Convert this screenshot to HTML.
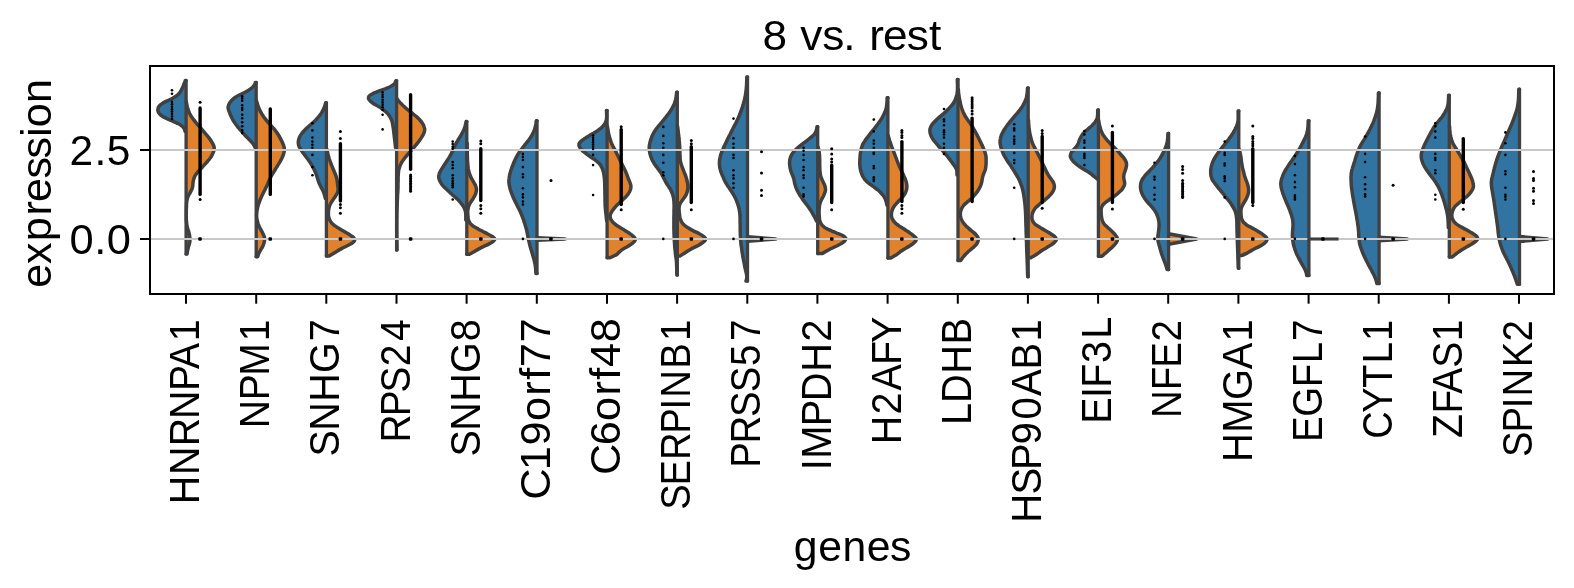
<!DOCTYPE html>
<html><head><meta charset="utf-8"><title>8 vs. rest</title>
<style>html,body{margin:0;padding:0;background:#fff}svg{display:block}</style>
</head><body>
<svg width="1574" height="588" viewBox="0 0 1574 588">
<rect width="1574" height="588" fill="#fff"/>
<g stroke="#404040" stroke-width="3.5" stroke-linejoin="round" stroke-linecap="round">
<path id="v0b" fill="#3274a1" d="M186.1 80.4L185.4 80.4C185.2 80.8 184.8 82.1 184.4 82.9C184.1 83.8 183.8 84.6 183.4 85.5C183.1 86.3 182.7 87.2 182.3 88.0C181.9 88.9 181.5 89.7 181.0 90.6C180.5 91.5 180.0 92.3 179.3 93.2C178.6 94.0 177.9 94.9 176.8 95.7C175.6 96.6 174.2 97.4 172.6 98.3C171.1 99.1 169.0 100.0 167.3 100.8C165.6 101.7 163.7 102.5 162.4 103.4C161.0 104.2 160.0 105.1 159.3 105.9C158.6 106.8 158.2 107.6 158.0 108.5C157.7 109.3 157.8 110.2 158.0 111.0C158.2 111.9 158.7 112.7 159.3 113.6C160.0 114.4 160.8 115.3 162.1 116.1C163.3 117.0 165.1 117.8 166.9 118.7C168.7 119.5 170.8 120.4 172.7 121.2C174.7 122.1 176.9 122.9 178.5 123.8C180.1 124.6 181.3 125.5 182.3 126.3C183.3 127.2 183.8 128.0 184.3 128.9C184.8 129.7 184.9 131.0 185.1 131.4L186.1 131.4"/>
<path id="v0o" fill="#e1812c" d="M186.1 101.8L186.3 101.8C186.4 102.2 186.6 103.5 186.8 104.4C186.9 105.2 187.1 106.0 187.3 106.9C187.5 107.7 187.8 108.6 188.1 109.4C188.3 110.3 188.6 111.1 189.0 112.0C189.3 112.8 189.7 113.7 190.2 114.5C190.6 115.3 191.2 116.2 191.7 117.0C192.3 117.9 192.9 118.7 193.6 119.6C194.2 120.4 194.9 121.3 195.6 122.1C196.2 123.0 196.9 123.8 197.6 124.6C198.4 125.5 199.1 126.3 199.9 127.2C200.6 128.0 201.4 128.9 202.1 129.7C202.9 130.6 203.6 131.4 204.4 132.3C205.1 133.1 205.8 133.9 206.5 134.8C207.2 135.6 207.9 136.5 208.6 137.3C209.2 138.2 209.8 139.0 210.4 139.9C211.0 140.7 211.5 141.6 212.0 142.4C212.5 143.2 213.0 144.1 213.4 144.9C213.7 145.8 214.0 146.6 214.2 147.5C214.3 148.3 214.2 149.2 214.0 150.0C213.9 150.9 213.6 151.7 213.2 152.5C212.9 153.4 212.5 154.2 212.0 155.1C211.6 155.9 211.1 156.8 210.5 157.6C209.9 158.5 209.3 159.3 208.6 160.2C207.9 161.0 207.1 161.8 206.4 162.7C205.6 163.5 204.9 164.4 204.1 165.2C203.3 166.1 202.5 166.9 201.7 167.8C201.0 168.6 200.1 169.5 199.4 170.3C198.6 171.1 197.8 172.0 197.2 172.8C196.5 173.7 195.8 174.5 195.3 175.4C194.8 176.2 194.4 177.1 194.1 177.9C193.8 178.8 193.6 179.6 193.4 180.4C193.2 181.3 193.1 182.1 193.0 183.0C192.9 183.8 192.9 184.7 192.8 185.5C192.6 186.4 192.6 187.2 192.3 188.1C192.0 188.9 191.6 189.7 191.2 190.6C190.8 191.4 190.3 192.3 189.9 193.1C189.4 194.0 188.8 194.8 188.4 195.7C188.1 196.5 187.7 197.4 187.5 198.2C187.2 199.0 187.0 199.9 186.9 200.7C186.7 201.6 186.7 202.4 186.6 203.3C186.5 204.1 186.5 205.0 186.5 205.8C186.4 206.7 186.4 207.5 186.4 208.3C186.3 209.2 186.3 210.0 186.3 210.9C186.3 211.7 186.3 212.6 186.3 213.4C186.3 214.3 186.2 215.1 186.3 216.0C186.3 216.8 186.3 217.6 186.3 218.5C186.3 219.3 186.4 220.2 186.4 221.0C186.5 221.9 186.6 222.7 186.7 223.6C186.8 224.4 186.9 225.3 187.1 226.1C187.2 226.9 187.5 227.8 187.7 228.6C187.9 229.5 188.2 230.3 188.5 231.2C188.8 232.0 189.0 232.9 189.2 233.7C189.4 234.6 189.6 235.4 189.7 236.2C189.8 237.1 189.9 237.9 189.9 238.8C189.9 239.6 190.0 240.5 189.9 241.3C189.8 242.2 189.6 243.0 189.4 243.9C189.2 244.7 188.9 245.5 188.6 246.4C188.4 247.2 188.2 248.1 188.0 248.9C187.8 249.8 187.6 250.6 187.4 251.5C187.3 252.3 187.1 253.6 187.0 254.0L186.1 254.0"/>
<path id="v1b" fill="#3274a1" d="M256.2 82.4L255.5 82.4C255.3 82.8 254.9 84.1 254.4 84.9C253.8 85.8 253.2 86.6 252.3 87.5C251.4 88.3 250.3 89.1 249.0 90.0C247.7 90.8 246.2 91.6 244.6 92.5C243.0 93.3 240.9 94.2 239.3 95.0C237.7 95.8 236.2 96.7 235.0 97.5C233.8 98.3 232.8 99.2 232.0 100.0C231.1 100.9 230.5 101.7 229.9 102.5C229.4 103.4 228.9 104.2 228.6 105.0C228.3 105.9 228.1 106.7 228.1 107.6C228.1 108.4 228.4 109.2 228.6 110.1C228.8 110.9 229.2 111.8 229.6 112.6C229.9 113.4 230.2 114.3 230.5 115.1C230.9 115.9 231.3 116.8 231.7 117.6C232.1 118.5 232.5 119.3 233.0 120.1C233.5 121.0 234.1 121.8 234.6 122.6C235.2 123.5 235.8 124.3 236.5 125.2C237.1 126.0 237.8 126.8 238.4 127.7C239.1 128.5 239.8 129.3 240.5 130.2C241.2 131.0 241.9 131.9 242.7 132.7C243.4 133.5 244.2 134.4 244.9 135.2C245.7 136.0 246.5 136.9 247.4 137.7C248.2 138.6 249.1 139.4 249.9 140.2C250.7 141.1 251.5 141.9 252.2 142.7C252.9 143.6 253.5 144.4 254.0 145.3C254.5 146.1 255.0 147.4 255.2 147.8L256.2 147.8"/>
<path id="v1o" fill="#e1812c" d="M256.2 100.8L256.5 100.8C256.6 101.2 257.0 102.5 257.2 103.3C257.5 104.1 257.7 105.0 258.0 105.8C258.3 106.7 258.6 107.5 259.0 108.3C259.3 109.2 259.7 110.0 260.1 110.9C260.5 111.7 261.0 112.5 261.5 113.4C261.9 114.2 262.5 115.0 263.1 115.9C263.6 116.7 264.2 117.6 264.9 118.4C265.5 119.2 266.2 120.1 266.9 120.9C267.5 121.7 268.3 122.6 269.0 123.4C269.8 124.3 270.5 125.1 271.3 125.9C272.1 126.8 272.9 127.6 273.6 128.4C274.3 129.3 275.0 130.1 275.7 131.0C276.3 131.8 276.9 132.6 277.5 133.5C278.0 134.3 278.6 135.2 279.0 136.0C279.5 136.8 280.0 137.7 280.4 138.5C280.9 139.3 281.3 140.2 281.7 141.0C282.1 141.9 282.5 142.7 282.8 143.5C283.2 144.4 283.6 145.2 283.8 146.0C284.1 146.9 284.3 147.7 284.3 148.6C284.4 149.4 284.3 150.2 284.2 151.1C284.1 151.9 283.9 152.7 283.7 153.6C283.4 154.4 283.1 155.3 282.8 156.1C282.4 156.9 282.1 157.8 281.7 158.6C281.3 159.5 280.8 160.3 280.4 161.1C279.9 162.0 279.4 162.8 278.9 163.6C278.3 164.5 277.8 165.3 277.3 166.2C276.8 167.0 276.2 167.8 275.7 168.7C275.2 169.5 274.7 170.3 274.2 171.2C273.7 172.0 273.1 172.9 272.6 173.7C272.1 174.5 271.7 175.4 271.2 176.2C270.8 177.0 270.3 177.9 269.9 178.7C269.5 179.6 269.2 180.4 268.8 181.2C268.4 182.1 268.1 182.9 267.8 183.8C267.4 184.6 267.0 185.4 266.6 186.3C266.2 187.1 265.8 187.9 265.4 188.8C265.0 189.6 264.6 190.5 264.1 191.3C263.7 192.1 263.3 193.0 262.9 193.8C262.5 194.6 262.1 195.5 261.7 196.3C261.3 197.2 260.9 198.0 260.6 198.8C260.2 199.7 259.9 200.5 259.6 201.3C259.3 202.2 258.9 203.0 258.7 203.9C258.4 204.7 258.1 205.5 257.9 206.4C257.7 207.2 257.5 208.1 257.4 208.9C257.2 209.7 257.0 210.6 256.9 211.4C256.8 212.2 256.7 213.1 256.7 213.9C256.6 214.8 256.6 215.6 256.6 216.4C256.7 217.3 256.8 218.1 256.9 218.9C257.0 219.8 257.2 220.6 257.5 221.5C257.7 222.3 257.9 223.1 258.2 224.0C258.5 224.8 258.9 225.6 259.2 226.5C259.6 227.3 260.1 228.2 260.5 229.0C261.0 229.8 261.4 230.7 261.9 231.5C262.3 232.4 262.7 233.2 263.1 234.0C263.5 234.9 263.9 235.7 264.2 236.5C264.4 237.4 264.6 238.2 264.6 239.1C264.6 239.9 264.5 240.7 264.3 241.6C264.2 242.4 263.9 243.2 263.7 244.1C263.4 244.9 263.0 245.8 262.6 246.6C262.2 247.4 261.6 248.3 261.1 249.1C260.7 249.9 260.1 250.8 259.7 251.6C259.2 252.5 258.9 253.3 258.5 254.1C258.2 255.0 257.8 256.2 257.7 256.7L256.2 256.7"/>
<path id="v2b" fill="#3274a1" d="M326.4 102.8L325.7 102.8C325.6 103.3 325.2 104.5 325.0 105.4C324.7 106.2 324.4 107.0 324.0 107.9C323.7 108.7 323.3 109.5 322.9 110.4C322.5 111.2 322.0 112.1 321.5 112.9C321.0 113.7 320.4 114.6 319.7 115.4C319.1 116.3 318.4 117.1 317.6 117.9C316.9 118.8 316.1 119.6 315.3 120.5C314.4 121.3 313.5 122.1 312.5 123.0C311.6 123.8 310.6 124.7 309.6 125.5C308.7 126.3 307.7 127.2 306.8 128.0C305.9 128.8 305.1 129.7 304.3 130.5C303.6 131.4 302.8 132.2 302.2 133.0C301.5 133.9 300.9 134.7 300.3 135.6C299.8 136.4 299.4 137.2 299.1 138.1C298.8 138.9 298.6 139.8 298.5 140.6C298.3 141.4 298.3 142.3 298.3 143.1C298.4 144.0 298.5 144.8 298.8 145.6C299.1 146.5 299.5 147.3 300.0 148.1C300.5 149.0 301.0 149.8 301.6 150.7C302.2 151.5 302.7 152.3 303.3 153.2C303.9 154.0 304.6 154.9 305.2 155.7C305.8 156.5 306.5 157.4 307.1 158.2C307.8 159.1 308.4 159.9 308.9 160.7C309.5 161.6 310.1 162.4 310.6 163.2C311.2 164.1 311.7 164.9 312.2 165.8C312.7 166.6 313.1 167.4 313.5 168.3C314.0 169.1 314.4 170.0 314.7 170.8C315.1 171.6 315.5 172.5 315.8 173.3C316.1 174.2 316.4 175.0 316.7 175.8C317.0 176.7 317.2 177.5 317.5 178.4C317.8 179.2 318.0 180.0 318.3 180.9C318.6 181.7 318.9 182.5 319.2 183.4C319.6 184.2 319.9 185.1 320.4 185.9C320.8 186.7 321.2 187.6 321.7 188.4C322.1 189.3 322.6 190.1 323.0 190.9C323.4 191.8 323.7 192.6 324.0 193.5C324.3 194.3 324.5 195.1 324.8 196.0C325.0 196.8 325.3 198.1 325.4 198.5L326.4 198.5"/>
<path id="v2o" fill="#e1812c" d="M326.4 148.8L326.7 148.8C326.8 149.2 327.1 150.5 327.3 151.3C327.5 152.2 327.7 153.0 327.9 153.9C328.1 154.7 328.3 155.6 328.6 156.4C328.8 157.3 329.0 158.1 329.3 159.0C329.6 159.8 329.9 160.7 330.2 161.5C330.5 162.4 330.8 163.2 331.1 164.1C331.5 164.9 331.8 165.8 332.2 166.6C332.5 167.5 332.9 168.3 333.2 169.2C333.6 170.0 334.0 170.9 334.3 171.7C334.7 172.6 335.0 173.4 335.4 174.3C335.7 175.2 336.0 176.0 336.3 176.9C336.5 177.7 336.7 178.6 336.9 179.4C337.1 180.3 337.2 181.1 337.3 182.0C337.4 182.8 337.5 183.7 337.6 184.5C337.7 185.4 337.9 186.2 337.9 187.1C338.0 187.9 338.2 188.8 338.1 189.6C338.1 190.5 337.9 191.3 337.7 192.2C337.4 193.0 336.9 193.9 336.4 194.7C335.9 195.6 335.3 196.4 334.8 197.3C334.2 198.1 333.6 199.0 333.0 199.8C332.5 200.7 331.8 201.5 331.3 202.4C330.8 203.2 330.3 204.1 329.9 205.0C329.5 205.8 329.3 206.7 329.1 207.5C328.9 208.4 328.7 209.2 328.6 210.1C328.5 210.9 328.4 211.8 328.4 212.6C328.4 213.5 328.4 214.3 328.4 215.2C328.5 216.0 328.6 216.9 328.9 217.7C329.1 218.6 329.4 219.4 329.9 220.3C330.3 221.1 330.8 222.0 331.5 222.8C332.3 223.7 333.2 224.5 334.3 225.4C335.4 226.2 336.8 227.1 338.2 227.9C339.5 228.8 340.9 229.6 342.4 230.5C343.8 231.3 345.4 232.2 346.8 233.1C348.2 233.9 349.7 234.8 350.9 235.6C352.1 236.5 353.5 237.3 354.1 238.2C354.7 239.0 354.9 239.9 354.5 240.7C354.1 241.6 353.1 242.4 351.9 243.3C350.7 244.1 348.9 245.0 347.3 245.8C345.6 246.7 343.5 247.5 341.9 248.4C340.3 249.2 338.9 250.1 337.5 250.9C336.1 251.8 334.8 252.6 333.4 253.5C332.1 254.3 329.9 255.6 329.2 256.0L326.4 256.0"/>
<path id="v3b" fill="#3274a1" d="M396.6 80.8L395.9 80.8C395.7 81.2 395.4 82.5 394.7 83.4C394.0 84.2 393.1 85.1 391.6 85.9C390.2 86.8 388.3 87.7 386.1 88.5C383.9 89.4 380.9 90.2 378.6 91.1C376.3 92.0 374.1 92.8 372.5 93.7C370.9 94.5 369.6 95.4 368.9 96.3C368.3 97.1 368.2 98.0 368.5 98.8C368.8 99.7 369.7 100.5 370.6 101.4C371.6 102.3 372.8 103.1 374.1 104.0C375.4 104.8 377.1 105.7 378.5 106.6C379.9 107.4 381.3 108.3 382.5 109.1C383.7 110.0 384.8 110.9 385.7 111.7C386.7 112.6 387.5 113.4 388.2 114.3C388.9 115.1 389.5 116.0 390.0 116.9C390.5 117.7 390.9 118.6 391.3 119.4C391.6 120.3 391.9 121.2 392.2 122.0C392.4 122.9 392.6 123.7 392.7 124.6C392.9 125.4 393.0 126.3 393.1 127.2C393.3 128.0 393.4 128.9 393.5 129.7C393.6 130.6 393.7 131.5 393.8 132.3C393.9 133.2 394.0 134.0 394.1 134.9C394.2 135.8 394.3 136.6 394.4 137.5C394.5 138.3 394.6 139.2 394.7 140.0C394.8 140.9 394.9 141.8 395.0 142.6C395.1 143.5 395.2 144.3 395.3 145.2C395.4 146.1 395.5 147.3 395.6 147.8L396.6 147.8"/>
<path id="v3o" fill="#e1812c" d="M396.6 98.8L396.9 98.8C397.2 99.2 398.2 100.4 399.0 101.3C399.7 102.1 400.5 103.0 401.3 103.8C402.1 104.6 402.9 105.5 403.8 106.3C404.7 107.2 405.7 108.0 406.6 108.8C407.6 109.7 408.6 110.5 409.7 111.4C410.7 112.2 411.9 113.0 413.0 113.9C414.1 114.7 415.2 115.6 416.2 116.4C417.2 117.2 418.1 118.1 418.9 118.9C419.7 119.8 420.5 120.6 421.1 121.4C421.8 122.3 422.3 123.1 422.8 123.9C423.3 124.8 423.7 125.6 424.0 126.5C424.3 127.3 424.6 128.1 424.7 129.0C424.8 129.8 424.6 130.7 424.4 131.5C424.2 132.3 423.9 133.2 423.5 134.0C423.1 134.9 422.6 135.7 422.1 136.5C421.6 137.4 421.1 138.2 420.5 139.1C420.0 139.9 419.3 140.7 418.7 141.6C418.0 142.4 417.4 143.3 416.7 144.1C416.0 144.9 415.3 145.8 414.6 146.6C413.9 147.5 413.1 148.3 412.4 149.1C411.7 150.0 410.9 150.8 410.2 151.7C409.5 152.5 408.7 153.3 408.0 154.2C407.3 155.0 406.6 155.9 405.9 156.7C405.2 157.5 404.5 158.4 403.9 159.2C403.2 160.1 402.6 160.9 402.1 161.7C401.6 162.6 401.1 163.4 400.7 164.3C400.3 165.1 400.0 165.9 399.7 166.8C399.4 167.6 399.1 168.5 398.9 169.3C398.7 170.1 398.6 171.0 398.5 171.8C398.4 172.7 398.3 173.5 398.3 174.3C398.2 175.2 398.2 176.0 398.1 176.9C398.1 177.7 398.1 178.5 398.1 179.4C398.1 180.2 398.1 181.1 398.1 181.9C398.0 182.7 398.0 183.6 398.0 184.4C398.0 185.3 398.0 186.1 398.0 186.9C398.0 187.8 397.9 188.6 397.9 189.5C397.9 190.3 397.8 191.1 397.8 192.0C397.7 192.8 397.7 193.7 397.6 194.5C397.6 195.3 397.5 196.2 397.5 197.0C397.5 197.9 397.4 198.7 397.4 199.5C397.3 200.4 397.3 201.2 397.3 202.0C397.2 202.9 397.2 203.7 397.2 204.6C397.2 205.4 397.1 206.2 397.1 207.1C397.1 207.9 397.0 208.8 397.0 209.6C397.0 210.4 397.0 211.3 397.0 212.1C396.9 213.0 396.9 213.8 396.9 214.6C396.9 215.5 396.9 216.3 396.9 217.2C396.8 218.0 396.8 218.8 396.8 219.7C396.8 220.5 396.8 221.4 396.8 222.2C396.8 223.0 396.8 223.9 396.8 224.7C396.8 225.6 396.8 226.4 396.8 227.2C396.8 228.1 396.8 228.9 396.8 229.8C396.8 230.6 396.8 231.4 396.8 232.3C396.8 233.1 396.8 234.0 396.8 234.8C396.8 235.6 396.9 236.5 396.9 237.3C396.9 238.2 396.9 239.0 396.9 239.8C396.9 240.7 396.9 241.5 396.9 242.4C396.9 243.2 397.0 244.0 397.0 244.9C397.0 245.7 397.0 246.6 397.0 247.4C397.0 248.2 397.1 249.5 397.1 249.9L396.6 249.9"/>
<path id="v4b" fill="#3274a1" d="M466.8 121.6L466.1 121.6C466.0 122.0 465.8 123.3 465.6 124.1C465.4 125.0 465.2 125.8 465.0 126.7C464.7 127.5 464.5 128.3 464.1 129.2C463.8 130.0 463.3 130.9 462.9 131.7C462.5 132.5 462.0 133.4 461.5 134.2C461.1 135.1 460.6 135.9 460.1 136.7C459.6 137.6 459.1 138.4 458.5 139.3C458.0 140.1 457.5 141.0 457.0 141.8C456.5 142.6 456.0 143.5 455.6 144.3C455.1 145.2 454.7 146.0 454.3 146.8C454.0 147.7 453.6 148.5 453.3 149.4C452.9 150.2 452.6 151.0 452.2 151.9C451.8 152.7 451.4 153.6 450.9 154.4C450.5 155.2 450.0 156.1 449.5 156.9C448.9 157.8 448.4 158.6 447.9 159.5C447.3 160.3 446.8 161.1 446.2 162.0C445.6 162.8 445.1 163.7 444.5 164.5C444.0 165.3 443.5 166.2 442.9 167.0C442.4 167.9 441.9 168.7 441.4 169.5C440.9 170.4 440.4 171.2 440.0 172.1C439.6 172.9 439.2 173.7 439.0 174.6C438.8 175.4 438.6 176.3 438.7 177.1C438.7 178.0 439.0 178.8 439.3 179.6C439.6 180.5 440.0 181.3 440.5 182.2C440.9 183.0 441.5 183.8 442.1 184.7C442.7 185.5 443.5 186.4 444.3 187.2C445.1 188.0 446.1 188.9 447.0 189.7C447.9 190.6 448.8 191.4 449.7 192.2C450.6 193.1 451.4 193.9 452.4 194.8C453.4 195.6 454.5 196.5 455.4 197.3C456.4 198.1 457.3 199.0 458.1 199.8C459.0 200.7 459.6 201.5 460.3 202.3C461.0 203.2 461.7 204.0 462.3 204.9C462.9 205.7 463.5 206.5 463.9 207.4C464.4 208.2 464.7 209.1 465.0 209.9C465.3 210.7 465.4 211.6 465.6 212.4C465.7 213.3 465.7 214.1 465.8 215.0C465.8 215.8 465.8 216.6 465.8 217.5C465.8 218.3 465.8 219.6 465.8 220.0L466.8 220.0"/>
<path id="v4o" fill="#e1812c" d="M466.8 143.0L467.1 143.0C467.1 143.4 467.1 144.7 467.1 145.5C467.1 146.4 467.1 147.2 467.2 148.1C467.2 148.9 467.2 149.7 467.2 150.6C467.2 151.4 467.3 152.3 467.3 153.1C467.3 154.0 467.3 154.8 467.4 155.6C467.4 156.5 467.4 157.3 467.4 158.2C467.5 159.0 467.5 159.8 467.5 160.7C467.6 161.5 467.6 162.4 467.7 163.2C467.8 164.1 467.8 164.9 467.9 165.7C468.0 166.6 468.1 167.4 468.2 168.3C468.4 169.1 468.5 170.0 468.7 170.8C468.9 171.6 469.1 172.5 469.4 173.3C469.7 174.2 470.0 175.0 470.3 175.9C470.7 176.7 471.1 177.5 471.5 178.4C472.0 179.2 472.5 180.1 473.0 180.9C473.4 181.8 474.0 182.6 474.4 183.4C474.9 184.3 475.4 185.1 475.7 186.0C476.0 186.8 476.2 187.7 476.4 188.5C476.5 189.3 476.5 190.2 476.3 191.0C476.2 191.9 476.0 192.7 475.7 193.5C475.4 194.4 475.0 195.2 474.6 196.1C474.1 196.9 473.6 197.8 473.1 198.6C472.6 199.4 472.0 200.3 471.4 201.1C470.9 202.0 470.3 202.8 469.8 203.7C469.4 204.5 469.0 205.3 468.7 206.2C468.4 207.0 468.2 207.9 468.1 208.7C467.9 209.6 467.8 210.4 467.7 211.2C467.7 212.1 467.7 212.9 467.8 213.8C467.8 214.6 467.9 215.5 467.9 216.3C468.0 217.1 468.0 218.0 468.2 218.8C468.4 219.7 468.6 220.5 469.0 221.3C469.4 222.2 469.8 223.0 470.6 223.9C471.3 224.7 472.4 225.6 473.7 226.4C474.9 227.2 476.6 228.1 478.2 228.9C479.7 229.8 481.3 230.6 482.9 231.5C484.5 232.3 486.2 233.1 487.8 234.0C489.4 234.8 491.1 235.7 492.3 236.5C493.5 237.4 494.8 238.2 494.9 239.0C495.0 239.9 494.0 240.7 492.9 241.6C491.9 242.4 490.3 243.3 488.7 244.1C487.1 244.9 485.0 245.8 483.3 246.6C481.6 247.5 479.9 248.3 478.4 249.1C476.8 250.0 475.6 250.8 474.1 251.7C472.6 252.5 470.2 253.8 469.4 254.2L466.8 254.2"/>
<path id="v5b" fill="#3274a1" d="M537.0 120.8L536.3 120.8C536.2 121.2 536.1 122.5 536.0 123.3C535.8 124.1 535.7 125.0 535.5 125.8C535.3 126.6 535.1 127.5 534.9 128.3C534.7 129.1 534.4 130.0 534.0 130.8C533.7 131.6 533.3 132.5 532.9 133.3C532.5 134.1 532.1 135.0 531.6 135.8C531.1 136.6 530.6 137.5 530.0 138.3C529.4 139.1 528.8 140.0 528.1 140.8C527.5 141.6 526.8 142.5 526.1 143.3C525.5 144.1 524.8 145.0 524.1 145.8C523.5 146.6 522.8 147.5 522.2 148.3C521.5 149.1 520.9 150.0 520.3 150.8C519.7 151.6 519.1 152.5 518.6 153.3C518.0 154.1 517.6 155.0 517.1 155.8C516.6 156.7 516.2 157.5 515.8 158.3C515.4 159.2 515.0 160.0 514.6 160.8C514.2 161.7 513.9 162.5 513.5 163.3C513.2 164.2 512.9 165.0 512.6 165.8C512.2 166.7 511.9 167.5 511.6 168.3C511.3 169.2 511.0 170.0 510.8 170.8C510.5 171.7 510.3 172.5 510.1 173.3C509.8 174.2 509.7 175.0 509.5 175.8C509.3 176.7 509.2 177.5 509.1 178.3C508.9 179.2 508.9 180.0 508.9 180.8C508.8 181.7 508.9 182.5 509.0 183.3C509.1 184.2 509.2 185.0 509.4 185.8C509.6 186.7 509.8 187.5 510.0 188.3C510.2 189.2 510.4 190.0 510.7 190.8C511.0 191.7 511.3 192.5 511.6 193.3C511.9 194.2 512.2 195.0 512.6 195.8C512.9 196.7 513.3 197.5 513.6 198.3C514.0 199.2 514.4 200.0 514.8 200.8C515.2 201.7 515.6 202.5 516.1 203.3C516.5 204.2 516.9 205.0 517.3 205.8C517.8 206.7 518.2 207.5 518.6 208.3C519.0 209.2 519.5 210.0 519.9 210.9C520.3 211.7 520.7 212.5 521.0 213.4C521.4 214.2 521.7 215.0 522.0 215.9C522.4 216.7 522.7 217.5 523.0 218.4C523.3 219.2 523.6 220.0 523.8 220.9C524.1 221.7 524.4 222.5 524.7 223.4C524.9 224.2 525.2 225.0 525.4 225.9C525.7 226.7 525.9 227.5 526.1 228.4C526.4 229.2 526.6 230.0 526.8 230.9C526.9 231.7 527.1 232.5 527.3 233.4C527.4 234.2 527.6 235.0 527.7 235.9C527.9 236.7 528.0 237.5 528.2 238.4C528.4 239.2 528.6 240.0 528.8 240.9C528.9 241.7 529.2 242.5 529.4 243.4C529.6 244.2 529.8 245.0 530.0 245.9C530.2 246.7 530.5 247.5 530.7 248.4C531.0 249.2 531.2 250.0 531.5 250.9C531.7 251.7 532.0 252.5 532.2 253.4C532.5 254.2 532.7 255.0 532.9 255.9C533.2 256.7 533.4 257.5 533.7 258.4C533.9 259.2 534.1 260.0 534.3 260.9C534.5 261.7 534.7 262.5 534.9 263.4C535.1 264.2 535.2 265.0 535.3 265.9C535.4 266.7 535.5 267.6 535.6 268.4C535.7 269.2 535.7 270.1 535.8 270.9C535.8 271.7 535.9 273.0 535.9 273.4L537.0 273.4"/>
<path id="v5s" fill="#e1812c" d="M537.0 237.7L565.0 239.0L537.0 240.3"/>
<path id="v6b" fill="#3274a1" d="M607.1 110.6L606.4 110.6C606.5 111.0 606.6 112.3 606.6 113.1C606.6 113.9 606.7 114.8 606.7 115.6C606.7 116.4 606.7 117.3 606.6 118.1C606.5 119.0 606.5 119.8 606.2 120.6C606.0 121.5 605.6 122.3 605.2 123.1C604.7 124.0 604.1 124.8 603.4 125.6C602.7 126.5 601.9 127.3 601.0 128.2C600.0 129.0 598.7 129.8 597.5 130.7C596.3 131.5 595.0 132.3 593.6 133.2C592.2 134.0 590.7 134.8 589.3 135.7C587.9 136.5 586.4 137.4 585.2 138.2C583.9 139.0 582.7 139.9 581.7 140.7C580.7 141.5 579.7 142.4 579.3 143.2C578.8 144.0 578.9 144.9 579.0 145.7C579.2 146.6 579.7 147.4 580.3 148.2C580.9 149.1 581.7 149.9 582.5 150.7C583.4 151.6 584.4 152.4 585.5 153.2C586.6 154.1 587.8 154.9 589.0 155.8C590.2 156.6 591.4 157.4 592.6 158.3C593.8 159.1 595.1 159.9 596.2 160.8C597.3 161.6 598.2 162.5 599.0 163.3C599.8 164.1 600.4 165.0 600.9 165.8C601.4 166.6 601.8 167.5 602.2 168.3C602.6 169.1 602.8 170.0 603.1 170.8C603.3 171.7 603.5 172.5 603.7 173.3C603.9 174.2 604.0 175.0 604.1 175.8C604.2 176.7 604.3 177.5 604.4 178.3C604.5 179.2 604.5 180.0 604.6 180.9C604.6 181.7 604.7 182.5 604.7 183.4C604.7 184.2 604.7 185.0 604.8 185.9C604.8 186.7 604.8 187.5 604.8 188.4C604.8 189.2 604.9 190.1 604.9 190.9C604.9 191.7 604.9 192.6 604.9 193.4C604.9 194.2 604.9 195.1 605.0 195.9C605.0 196.7 605.0 197.6 605.0 198.4C605.0 199.3 605.0 200.1 605.0 200.9C605.0 201.8 605.1 202.6 605.1 203.4C605.1 204.3 605.1 205.1 605.2 205.9C605.2 206.8 605.3 207.6 605.4 208.5C605.4 209.3 605.5 210.1 605.6 211.0C605.7 211.8 605.8 212.6 605.9 213.5C606.0 214.3 606.1 215.1 606.2 216.0C606.2 216.8 606.3 217.7 606.4 218.5C606.5 219.3 606.7 220.6 606.7 221.0L607.1 221.0"/>
<path id="v6o" fill="#e1812c" d="M607.1 126.3L607.4 126.3C607.5 126.7 607.6 128.0 607.8 128.8C607.9 129.7 608.0 130.5 608.2 131.4C608.3 132.2 608.5 133.0 608.7 133.9C608.9 134.7 609.1 135.6 609.3 136.4C609.5 137.3 609.8 138.1 610.0 138.9C610.3 139.8 610.6 140.6 610.9 141.5C611.2 142.3 611.5 143.1 611.9 144.0C612.3 144.8 612.7 145.7 613.1 146.5C613.6 147.4 614.0 148.2 614.5 149.0C614.9 149.9 615.4 150.7 615.8 151.6C616.2 152.4 616.6 153.3 617.0 154.1C617.5 154.9 617.9 155.8 618.3 156.6C618.7 157.5 619.1 158.3 619.5 159.1C619.9 160.0 620.3 160.8 620.7 161.7C621.2 162.5 621.6 163.4 622.0 164.2C622.4 165.0 622.9 165.9 623.3 166.7C623.7 167.6 624.2 168.4 624.6 169.3C625.0 170.1 625.4 170.9 625.7 171.8C626.1 172.6 626.4 173.5 626.8 174.3C627.1 175.1 627.4 176.0 627.7 176.8C628.0 177.7 628.3 178.5 628.6 179.4C629.0 180.2 629.3 181.0 629.7 181.9C630.0 182.7 630.4 183.6 630.6 184.4C630.8 185.3 631.0 186.1 630.9 186.9C630.9 187.8 630.7 188.6 630.5 189.5C630.2 190.3 629.8 191.1 629.4 192.0C629.0 192.8 628.5 193.7 627.8 194.5C627.2 195.4 626.5 196.2 625.7 197.0C624.9 197.9 623.9 198.7 623.0 199.6C622.1 200.4 621.2 201.3 620.3 202.1C619.5 202.9 618.5 203.8 617.7 204.6C616.8 205.5 616.0 206.3 615.2 207.1C614.5 208.0 613.8 208.8 613.2 209.7C612.5 210.5 611.9 211.4 611.4 212.2C611.0 213.0 610.5 213.9 610.3 214.7C610.1 215.6 610.1 216.4 610.2 217.3C610.3 218.1 610.6 218.9 611.1 219.8C611.5 220.6 612.1 221.5 612.9 222.3C613.7 223.1 614.7 224.0 615.9 224.8C617.1 225.7 618.7 226.5 620.0 227.4C621.4 228.2 622.9 229.0 624.2 229.9C625.5 230.7 626.9 231.6 628.1 232.4C629.3 233.3 630.5 234.1 631.6 234.9C632.7 235.8 633.9 236.6 634.5 237.5C635.1 238.3 635.4 239.1 635.2 240.0C635.0 240.8 634.2 241.7 633.3 242.5C632.4 243.4 631.2 244.2 630.0 245.0C628.7 245.9 627.0 246.7 625.6 247.6C624.2 248.4 622.6 249.3 621.5 250.1C620.3 250.9 619.7 251.8 618.7 252.6C617.8 253.5 617.3 254.3 615.8 255.1C614.3 256.0 610.9 257.3 609.9 257.7L607.1 257.7"/>
<path id="v7b" fill="#3274a1" d="M677.3 92.2L676.6 92.2C676.6 92.6 676.5 93.9 676.4 94.7C676.3 95.6 676.2 96.4 676.1 97.2C676.0 98.1 675.8 98.9 675.6 99.7C675.4 100.6 675.2 101.4 674.9 102.2C674.6 103.1 674.3 103.9 673.9 104.7C673.5 105.6 673.1 106.4 672.6 107.2C672.2 108.1 671.7 108.9 671.2 109.8C670.7 110.6 670.1 111.4 669.6 112.3C669.0 113.1 668.4 113.9 667.7 114.8C667.1 115.6 666.4 116.4 665.7 117.3C665.0 118.1 664.3 118.9 663.7 119.8C663.0 120.6 662.3 121.4 661.6 122.3C660.9 123.1 660.2 123.9 659.5 124.8C658.8 125.6 658.1 126.4 657.5 127.3C656.8 128.1 656.2 129.0 655.6 129.8C655.0 130.6 654.5 131.5 654.0 132.3C653.6 133.1 653.1 134.0 652.7 134.8C652.3 135.6 651.9 136.5 651.6 137.3C651.3 138.1 651.0 139.0 650.7 139.8C650.4 140.6 650.2 141.5 650.0 142.3C649.8 143.1 649.6 144.0 649.5 144.8C649.4 145.6 649.2 146.5 649.2 147.3C649.2 148.1 649.2 149.0 649.3 149.8C649.4 150.7 649.5 151.5 649.7 152.3C649.8 153.2 650.0 154.0 650.3 154.8C650.5 155.7 650.7 156.5 651.1 157.3C651.4 158.2 651.7 159.0 652.1 159.8C652.5 160.7 653.0 161.5 653.5 162.3C654.0 163.2 654.5 164.0 655.0 164.8C655.6 165.7 656.2 166.5 656.9 167.3C657.5 168.2 658.2 169.0 658.8 169.9C659.4 170.7 660.0 171.5 660.6 172.4C661.1 173.2 661.6 174.0 662.0 174.9C662.5 175.7 662.9 176.5 663.4 177.4C663.8 178.2 664.2 179.0 664.6 179.9C665.1 180.7 665.5 181.5 666.0 182.4C666.4 183.2 667.0 184.0 667.5 184.9C668.0 185.7 668.6 186.5 669.1 187.4C669.7 188.2 670.2 189.0 670.7 189.9C671.1 190.7 671.5 191.6 671.8 192.4C672.2 193.2 672.5 194.1 672.7 194.9C673.0 195.7 673.2 196.6 673.4 197.4C673.6 198.2 673.7 199.1 673.8 199.9C673.9 200.7 673.9 201.6 674.0 202.4C674.0 203.2 674.0 204.1 674.1 204.9C674.1 205.7 674.1 206.6 674.1 207.4C674.1 208.2 674.1 209.1 674.0 209.9C674.0 210.7 674.0 211.6 674.0 212.4C674.0 213.3 674.0 214.1 674.0 214.9C673.9 215.8 673.9 216.6 673.9 217.4C673.9 218.3 673.9 219.1 673.9 219.9C673.9 220.8 673.9 221.6 673.9 222.4C673.9 223.3 673.9 224.1 673.9 224.9C673.9 225.8 673.9 226.6 673.9 227.4C673.9 228.3 673.9 229.1 673.9 229.9C674.0 230.8 674.0 231.6 674.0 232.5C674.0 233.3 674.0 234.1 674.1 235.0C674.1 235.8 674.1 236.6 674.2 237.5C674.2 238.3 674.2 239.1 674.3 240.0C674.3 240.8 674.4 241.6 674.5 242.5C674.5 243.3 674.6 244.1 674.6 245.0C674.7 245.8 674.8 246.6 674.8 247.5C674.9 248.3 675.0 249.1 675.1 250.0C675.2 250.8 675.2 251.6 675.3 252.5C675.4 253.3 675.5 254.2 675.6 255.0C675.7 255.8 675.8 256.7 676.0 257.5C676.1 258.3 676.2 259.2 676.3 260.0C676.4 260.8 676.4 261.7 676.5 262.5C676.6 263.3 676.6 264.2 676.6 265.0C676.7 265.8 676.7 266.7 676.7 267.5C676.8 268.3 676.8 269.2 676.8 270.0C676.8 270.8 676.8 271.7 676.8 272.5C676.8 273.4 676.8 274.6 676.8 275.0L677.3 275.0"/>
<path id="v7o" fill="#e1812c" d="M677.3 126.3L677.6 126.3C677.7 126.7 677.8 128.0 677.9 128.8C678.0 129.7 678.1 130.5 678.2 131.4C678.3 132.2 678.4 133.1 678.5 133.9C678.6 134.8 678.7 135.6 678.8 136.5C678.9 137.3 679.0 138.2 679.0 139.0C679.1 139.9 679.2 140.7 679.3 141.6C679.4 142.4 679.4 143.3 679.5 144.1C679.6 145.0 679.6 145.8 679.7 146.7C679.7 147.5 679.8 148.4 679.8 149.2C679.8 150.0 679.9 150.9 679.9 151.7C679.9 152.6 679.9 153.4 679.9 154.3C680.0 155.1 680.0 156.0 680.0 156.8C680.1 157.7 680.1 158.5 680.2 159.4C680.3 160.2 680.4 161.1 680.6 161.9C680.8 162.8 681.0 163.6 681.3 164.5C681.5 165.3 681.8 166.2 682.2 167.0C682.5 167.9 682.8 168.7 683.2 169.6C683.5 170.4 683.9 171.2 684.2 172.1C684.5 172.9 684.9 173.8 685.2 174.6C685.5 175.5 685.8 176.3 686.1 177.2C686.3 178.0 686.6 178.9 686.8 179.7C687.0 180.6 687.2 181.4 687.4 182.3C687.5 183.1 687.7 184.0 687.8 184.8C687.9 185.7 687.9 186.5 687.9 187.4C687.9 188.2 687.8 189.1 687.6 189.9C687.5 190.7 687.3 191.6 687.0 192.4C686.7 193.3 686.4 194.1 686.0 195.0C685.5 195.8 684.9 196.7 684.4 197.5C683.8 198.4 683.1 199.2 682.5 200.1C681.8 200.9 681.1 201.8 680.6 202.6C680.1 203.5 679.8 204.3 679.5 205.2C679.3 206.0 679.1 206.9 679.1 207.7C679.0 208.6 679.1 209.4 679.1 210.3C679.1 211.1 679.2 211.9 679.3 212.8C679.4 213.6 679.5 214.5 679.6 215.3C679.7 216.2 679.8 217.0 680.0 217.9C680.3 218.7 680.5 219.6 680.9 220.4C681.2 221.3 681.6 222.1 682.3 223.0C682.9 223.8 683.8 224.7 684.8 225.5C685.8 226.4 687.1 227.2 688.5 228.1C689.9 228.9 691.4 229.8 693.0 230.6C694.6 231.5 696.6 232.3 698.2 233.1C699.8 234.0 701.4 234.8 702.6 235.7C703.8 236.5 705.0 237.4 705.4 238.2C705.8 239.1 705.5 239.9 704.9 240.8C704.3 241.6 703.0 242.5 701.8 243.3C700.5 244.2 699.0 245.0 697.4 245.9C695.8 246.7 693.8 247.6 692.2 248.4C690.6 249.3 689.1 250.1 687.7 251.0C686.4 251.8 685.2 252.6 683.9 253.5C682.6 254.3 680.7 255.6 680.0 256.0L677.3 256.0"/>
<path id="v8b" fill="#3274a1" d="M747.5 76.9L746.8 76.9C746.8 77.3 746.8 78.6 746.8 79.4C746.7 80.3 746.7 81.1 746.7 82.0C746.6 82.8 746.6 83.6 746.6 84.5C746.5 85.3 746.5 86.2 746.4 87.0C746.3 87.8 746.3 88.7 746.2 89.5C746.1 90.4 746.0 91.2 745.9 92.0C745.8 92.9 745.7 93.7 745.5 94.6C745.4 95.4 745.2 96.2 745.0 97.1C744.9 97.9 744.7 98.8 744.5 99.6C744.3 100.4 744.1 101.3 743.8 102.1C743.6 103.0 743.4 103.8 743.2 104.6C742.9 105.5 742.7 106.3 742.4 107.2C742.1 108.0 741.8 108.8 741.5 109.7C741.2 110.5 740.9 111.4 740.6 112.2C740.3 113.0 739.9 113.9 739.6 114.7C739.3 115.6 738.9 116.4 738.6 117.3C738.2 118.1 737.8 118.9 737.4 119.8C737.0 120.6 736.6 121.5 736.2 122.3C735.8 123.1 735.4 124.0 734.9 124.8C734.5 125.7 734.1 126.5 733.6 127.3C733.2 128.2 732.8 129.0 732.3 129.9C731.9 130.7 731.5 131.5 731.0 132.4C730.6 133.2 730.2 134.1 729.8 134.9C729.3 135.7 728.9 136.6 728.5 137.4C728.1 138.3 727.6 139.1 727.2 139.9C726.8 140.8 726.4 141.6 726.0 142.5C725.6 143.3 725.2 144.1 724.8 145.0C724.4 145.8 724.0 146.7 723.6 147.5C723.3 148.3 722.9 149.2 722.5 150.0C722.2 150.9 721.8 151.7 721.5 152.5C721.2 153.4 720.9 154.2 720.6 155.1C720.4 155.9 720.2 156.7 720.0 157.6C719.8 158.4 719.7 159.3 719.6 160.1C719.5 160.9 719.4 161.8 719.4 162.6C719.4 163.5 719.4 164.3 719.5 165.1C719.6 166.0 719.7 166.8 719.8 167.7C720.0 168.5 720.2 169.3 720.4 170.2C720.6 171.0 720.9 171.9 721.2 172.7C721.5 173.5 722.0 174.4 722.3 175.2C722.7 176.1 723.0 176.9 723.4 177.7C723.7 178.6 724.1 179.4 724.5 180.3C724.9 181.1 725.3 182.0 725.8 182.8C726.3 183.6 726.9 184.5 727.4 185.3C727.9 186.2 728.5 187.0 729.1 187.8C729.6 188.7 730.2 189.5 730.8 190.4C731.4 191.2 731.9 192.0 732.4 192.9C732.9 193.7 733.4 194.6 733.9 195.4C734.4 196.2 734.8 197.1 735.2 197.9C735.6 198.8 736.0 199.6 736.4 200.4C736.7 201.3 737.0 202.1 737.3 203.0C737.6 203.8 737.9 204.6 738.2 205.5C738.4 206.3 738.7 207.2 738.9 208.0C739.1 208.8 739.2 209.7 739.4 210.5C739.5 211.4 739.7 212.2 739.8 213.0C739.9 213.9 739.9 214.7 740.0 215.6C740.0 216.4 740.0 217.2 740.1 218.1C740.1 218.9 740.1 219.8 740.1 220.6C740.1 221.4 740.1 222.3 740.1 223.1C740.2 224.0 740.2 224.8 740.2 225.6C740.2 226.5 740.2 227.3 740.2 228.2C740.2 229.0 740.2 229.8 740.2 230.7C740.3 231.5 740.3 232.4 740.3 233.2C740.3 234.0 740.3 234.9 740.4 235.7C740.4 236.6 740.5 237.4 740.5 238.2C740.6 239.1 740.6 239.9 740.7 240.8C740.8 241.6 740.9 242.4 740.9 243.3C741.0 244.1 741.1 245.0 741.2 245.8C741.4 246.6 741.5 247.5 741.6 248.3C741.7 249.2 741.8 250.0 742.0 250.9C742.1 251.7 742.2 252.5 742.3 253.4C742.5 254.2 742.6 255.1 742.7 255.9C742.9 256.7 743.0 257.6 743.2 258.4C743.3 259.3 743.5 260.1 743.7 260.9C743.9 261.8 744.0 262.6 744.2 263.5C744.4 264.3 744.5 265.1 744.7 266.0C744.8 266.8 745.0 267.7 745.2 268.5C745.4 269.3 745.6 270.2 745.8 271.0C746.0 271.9 746.2 272.7 746.4 273.5C746.6 274.4 746.7 275.2 746.8 276.1C746.8 276.9 746.8 277.7 746.7 278.6C746.5 279.4 746.1 280.7 746.0 281.1L747.5 281.1"/>
<path id="v8s" fill="#e1812c" d="M747.5 236.8L775.6 239.0L747.5 241.2"/>
<path id="v9b" fill="#3274a1" d="M817.7 126.7L817.0 126.7C816.9 127.1 816.8 128.4 816.6 129.3C816.4 130.1 816.2 131.0 815.8 131.8C815.4 132.7 815.0 133.5 814.3 134.4C813.6 135.2 812.6 136.1 811.6 136.9C810.6 137.8 809.4 138.6 808.3 139.5C807.2 140.4 806.0 141.2 804.9 142.1C803.8 142.9 802.6 143.8 801.5 144.6C800.4 145.5 799.3 146.3 798.3 147.2C797.4 148.0 796.5 148.9 795.6 149.7C794.8 150.6 794.0 151.4 793.3 152.3C792.7 153.1 792.1 154.0 791.6 154.8C791.2 155.7 790.8 156.6 790.5 157.4C790.2 158.3 790.0 159.1 789.8 160.0C789.7 160.8 789.6 161.7 789.6 162.5C789.5 163.4 789.6 164.2 789.7 165.1C789.7 165.9 789.9 166.8 790.0 167.6C790.2 168.5 790.4 169.3 790.6 170.2C790.8 171.0 791.1 171.9 791.5 172.8C791.8 173.6 792.2 174.5 792.5 175.3C792.9 176.2 793.2 177.0 793.5 177.9C793.8 178.7 793.9 179.6 794.1 180.4C794.3 181.3 794.4 182.1 794.6 183.0C794.8 183.8 795.1 184.7 795.3 185.5C795.6 186.4 795.9 187.2 796.2 188.1C796.6 189.0 797.0 189.8 797.4 190.7C797.8 191.5 798.2 192.4 798.7 193.2C799.2 194.1 799.7 194.9 800.2 195.8C800.8 196.6 801.4 197.5 802.0 198.3C802.5 199.2 803.1 200.0 803.8 200.9C804.4 201.7 805.1 202.6 805.7 203.4C806.4 204.3 807.0 205.1 807.7 206.0C808.3 206.9 808.9 207.7 809.5 208.6C810.1 209.4 810.6 210.3 811.2 211.1C811.7 212.0 812.2 212.8 812.7 213.7C813.2 214.5 813.7 215.4 814.1 216.2C814.6 217.1 815.0 217.9 815.5 218.8C815.9 219.6 816.5 220.9 816.7 221.3L817.7 221.3"/>
<path id="v9o" fill="#e1812c" d="M817.7 147.0L818.0 147.0C818.1 147.4 818.5 148.7 818.7 149.5C818.9 150.4 819.1 151.2 819.2 152.1C819.3 152.9 819.4 153.8 819.5 154.6C819.5 155.5 819.6 156.3 819.6 157.1C819.6 158.0 819.7 158.8 819.7 159.7C819.7 160.5 819.7 161.4 819.7 162.2C819.7 163.1 819.7 163.9 819.7 164.8C819.8 165.6 819.8 166.5 819.8 167.3C819.8 168.1 819.8 169.0 819.9 169.8C819.9 170.7 820.0 171.5 820.1 172.4C820.2 173.2 820.3 174.1 820.4 174.9C820.6 175.8 820.8 176.6 821.1 177.4C821.4 178.3 821.9 179.1 822.2 180.0C822.6 180.8 823.0 181.7 823.4 182.5C823.8 183.4 824.2 184.2 824.6 185.1C824.9 185.9 825.2 186.8 825.3 187.6C825.5 188.4 825.5 189.3 825.5 190.1C825.4 191.0 825.1 191.8 824.8 192.7C824.6 193.5 824.2 194.4 823.8 195.2C823.5 196.1 823.0 196.9 822.6 197.7C822.1 198.6 821.6 199.4 821.2 200.3C820.8 201.1 820.5 202.0 820.2 202.8C819.9 203.7 819.7 204.5 819.6 205.4C819.4 206.2 819.3 207.1 819.3 207.9C819.2 208.7 819.1 209.6 819.1 210.4C819.1 211.3 819.1 212.1 819.1 213.0C819.1 213.8 819.1 214.7 819.2 215.5C819.2 216.4 819.3 217.2 819.4 218.0C819.5 218.9 819.5 219.7 819.8 220.6C820.0 221.4 820.3 222.3 820.8 223.1C821.2 224.0 821.8 224.8 822.6 225.7C823.5 226.5 824.4 227.4 825.9 228.2C827.3 229.0 829.3 229.9 831.2 230.7C833.0 231.6 835.2 232.4 837.2 233.3C839.2 234.1 841.8 235.0 843.2 235.8C844.7 236.7 845.5 237.5 845.8 238.3C846.0 239.2 845.4 240.0 844.7 240.9C843.9 241.7 842.9 242.6 841.5 243.4C840.2 244.3 838.4 245.1 836.7 246.0C835.0 246.8 833.0 247.7 831.3 248.5C829.6 249.3 828.1 250.2 826.5 251.0C825.0 251.9 822.8 253.1 822.1 253.6L817.7 253.6"/>
<path id="v10b" fill="#3274a1" d="M887.9 97.7L887.2 97.7C887.1 98.2 887.1 99.4 887.1 100.3C887.1 101.1 887.0 102.0 886.9 102.8C886.9 103.7 886.8 104.5 886.7 105.4C886.6 106.2 886.4 107.1 886.2 108.0C886.0 108.8 885.8 109.7 885.5 110.5C885.2 111.4 884.8 112.2 884.4 113.1C884.1 113.9 883.6 114.8 883.2 115.6C882.8 116.5 882.3 117.3 881.8 118.2C881.3 119.0 880.8 119.9 880.2 120.7C879.6 121.6 879.0 122.4 878.4 123.3C877.8 124.1 877.1 125.0 876.5 125.8C875.8 126.7 875.2 127.5 874.5 128.4C873.8 129.2 873.1 130.1 872.5 130.9C871.8 131.8 871.1 132.6 870.4 133.5C869.7 134.3 869.0 135.2 868.4 136.1C867.7 136.9 867.1 137.8 866.5 138.6C865.8 139.5 865.2 140.3 864.7 141.2C864.1 142.0 863.5 142.9 863.1 143.7C862.6 144.6 862.3 145.4 862.0 146.3C861.7 147.1 861.4 148.0 861.2 148.8C861.0 149.7 860.8 150.5 860.7 151.4C860.6 152.2 860.4 153.1 860.3 153.9C860.2 154.8 860.2 155.6 860.1 156.5C860.0 157.3 860.0 158.2 859.9 159.0C859.8 159.9 859.8 160.7 859.8 161.6C859.7 162.4 859.7 163.3 859.8 164.1C859.8 165.0 859.9 165.9 860.0 166.7C860.1 167.6 860.2 168.4 860.4 169.3C860.6 170.1 860.8 171.0 861.0 171.8C861.3 172.7 861.5 173.5 861.9 174.4C862.2 175.2 862.6 176.1 863.1 176.9C863.5 177.8 864.1 178.6 864.8 179.5C865.5 180.3 866.2 181.2 867.2 182.0C868.1 182.9 869.4 183.7 870.6 184.6C871.7 185.4 873.0 186.3 874.2 187.1C875.3 188.0 876.4 188.8 877.4 189.7C878.5 190.5 879.5 191.4 880.3 192.2C881.2 193.1 881.9 194.0 882.6 194.8C883.3 195.7 883.9 196.5 884.4 197.4C884.9 198.2 885.3 199.1 885.6 199.9C885.9 200.8 886.2 201.6 886.4 202.5C886.6 203.3 886.8 204.6 886.9 205.0L887.9 205.0"/>
<path id="v10o" fill="#e1812c" d="M887.9 135.5L888.1 135.5C888.3 135.9 888.6 137.2 888.9 138.0C889.1 138.8 889.4 139.7 889.6 140.5C889.9 141.3 890.2 142.2 890.5 143.0C890.7 143.8 891.0 144.7 891.3 145.5C891.6 146.3 891.9 147.2 892.2 148.0C892.5 148.8 892.9 149.7 893.2 150.5C893.5 151.3 893.8 152.2 894.2 153.0C894.5 153.8 894.8 154.7 895.1 155.5C895.5 156.3 895.8 157.2 896.1 158.0C896.4 158.8 896.7 159.7 897.0 160.5C897.3 161.3 897.6 162.2 898.0 163.0C898.3 163.8 898.6 164.7 899.0 165.5C899.3 166.3 899.7 167.2 900.1 168.0C900.4 168.8 900.9 169.7 901.3 170.5C901.7 171.3 902.1 172.2 902.5 173.0C902.9 173.9 903.3 174.7 903.6 175.5C904.0 176.4 904.5 177.2 904.8 178.0C905.2 178.9 905.5 179.7 905.8 180.5C906.1 181.4 906.3 182.2 906.5 183.0C906.6 183.9 906.8 184.7 906.8 185.5C906.9 186.4 906.9 187.2 906.8 188.0C906.7 188.9 906.6 189.7 906.3 190.5C906.0 191.4 905.7 192.2 905.3 193.0C904.9 193.9 904.4 194.7 903.7 195.5C903.1 196.4 902.3 197.2 901.5 198.0C900.8 198.9 900.0 199.7 899.2 200.5C898.4 201.4 897.6 202.2 896.9 203.0C896.1 203.9 895.3 204.7 894.7 205.5C894.1 206.4 893.6 207.2 893.1 208.0C892.7 208.9 892.4 209.7 892.1 210.5C891.8 211.4 891.6 212.2 891.5 213.0C891.4 213.9 891.3 214.7 891.4 215.5C891.5 216.4 891.7 217.2 892.0 218.1C892.3 218.9 892.7 219.7 893.3 220.6C893.9 221.4 894.5 222.2 895.4 223.1C896.3 223.9 897.5 224.7 898.7 225.6C899.9 226.4 901.3 227.2 902.6 228.1C903.8 228.9 905.1 229.7 906.4 230.6C907.6 231.4 908.9 232.2 910.1 233.1C911.3 233.9 912.4 234.7 913.4 235.6C914.4 236.4 915.5 237.2 916.0 238.1C916.4 238.9 916.3 239.7 915.9 240.6C915.5 241.4 914.6 242.2 913.6 243.1C912.7 243.9 911.5 244.7 910.3 245.6C909.0 246.4 907.5 247.2 906.1 248.1C904.8 248.9 903.3 249.7 902.1 250.6C900.8 251.4 899.8 252.2 898.6 253.1C897.5 253.9 896.4 254.7 895.1 255.6C893.7 256.4 891.3 257.7 890.5 258.1L887.9 258.1"/>
<path id="v11b" fill="#3274a1" d="M958.0 79.4L957.3 79.4C957.3 79.8 957.4 81.0 957.4 81.9C957.4 82.7 957.5 83.6 957.5 84.4C957.5 85.2 957.5 86.1 957.5 86.9C957.5 87.7 957.5 88.6 957.5 89.4C957.4 90.3 957.4 91.1 957.3 91.9C957.2 92.8 957.1 93.6 956.9 94.5C956.7 95.3 956.5 96.1 956.2 97.0C956.0 97.8 955.7 98.6 955.3 99.5C955.0 100.3 954.6 101.2 954.1 102.0C953.6 102.8 953.0 103.7 952.4 104.5C951.8 105.4 951.0 106.2 950.3 107.0C949.6 107.9 948.8 108.7 947.9 109.5C947.1 110.4 946.2 111.2 945.3 112.1C944.4 112.9 943.3 113.7 942.4 114.6C941.4 115.4 940.4 116.2 939.4 117.1C938.5 117.9 937.6 118.8 936.7 119.6C935.8 120.4 935.0 121.3 934.2 122.1C933.4 123.0 932.6 123.8 932.0 124.6C931.4 125.5 930.9 126.3 930.6 127.1C930.2 128.0 930.0 128.8 929.9 129.7C929.8 130.5 929.9 131.3 930.0 132.2C930.1 133.0 930.4 133.8 930.7 134.7C931.0 135.5 931.3 136.4 931.8 137.2C932.2 138.0 932.7 138.9 933.3 139.7C933.8 140.6 934.5 141.4 935.2 142.2C935.9 143.1 936.6 143.9 937.3 144.7C938.0 145.6 938.8 146.4 939.5 147.3C940.3 148.1 941.0 148.9 941.8 149.8C942.6 150.6 943.3 151.4 944.1 152.3C944.8 153.1 945.5 154.0 946.2 154.8C946.8 155.6 947.5 156.5 948.1 157.3C948.7 158.2 949.4 159.0 950.0 159.8C950.6 160.7 951.2 161.5 951.8 162.3C952.5 163.2 953.2 164.0 953.8 164.9C954.4 165.7 955.1 166.5 955.5 167.4C956.0 168.2 956.4 169.1 956.6 169.9C956.8 170.7 956.9 171.6 957.0 172.4C957.0 173.2 957.0 174.5 957.0 174.9L958.0 174.9"/>
<path id="v11o" fill="#e1812c" d="M958.0 89.6L958.3 89.6C958.4 90.0 958.5 91.2 958.5 92.1C958.6 92.9 958.7 93.8 958.8 94.6C959.0 95.4 959.1 96.3 959.2 97.1C959.3 98.0 959.5 98.8 959.6 99.6C959.8 100.5 960.0 101.3 960.1 102.1C960.3 103.0 960.5 103.8 960.7 104.7C960.9 105.5 961.1 106.3 961.4 107.2C961.6 108.0 961.9 108.8 962.2 109.7C962.5 110.5 962.9 111.4 963.2 112.2C963.6 113.0 964.0 113.9 964.5 114.7C964.9 115.6 965.4 116.4 965.9 117.2C966.4 118.1 967.0 118.9 967.6 119.7C968.2 120.6 968.8 121.4 969.4 122.3C970.0 123.1 970.6 123.9 971.1 124.8C971.7 125.6 972.2 126.4 972.7 127.3C973.2 128.1 973.7 129.0 974.2 129.8C974.7 130.6 975.1 131.5 975.6 132.3C976.0 133.1 976.5 134.0 976.9 134.8C977.3 135.7 977.8 136.5 978.2 137.3C978.6 138.2 979.1 139.0 979.5 139.9C979.9 140.7 980.3 141.5 980.7 142.4C981.1 143.2 981.6 144.0 981.9 144.9C982.3 145.7 982.7 146.6 983.0 147.4C983.4 148.2 983.7 149.1 984.0 149.9C984.4 150.7 984.7 151.6 985.0 152.4C985.2 153.3 985.5 154.1 985.7 154.9C985.9 155.8 986.0 156.6 986.1 157.5C986.1 158.3 986.1 159.1 986.1 160.0C986.1 160.8 986.1 161.6 986.1 162.5C986.1 163.3 986.0 164.2 986.0 165.0C985.9 165.8 985.8 166.7 985.7 167.5C985.6 168.3 985.4 169.2 985.2 170.0C984.9 170.9 984.5 171.7 984.2 172.5C983.9 173.4 983.4 174.2 983.2 175.1C982.9 175.9 982.7 176.7 982.5 177.6C982.3 178.4 982.2 179.2 982.1 180.1C981.9 180.9 981.8 181.8 981.6 182.6C981.4 183.4 981.1 184.3 980.8 185.1C980.5 185.9 980.1 186.8 979.7 187.6C979.3 188.5 978.8 189.3 978.3 190.1C977.8 191.0 977.2 191.8 976.6 192.6C976.0 193.5 975.3 194.3 974.5 195.2C973.8 196.0 973.0 196.8 972.2 197.7C971.3 198.5 970.5 199.4 969.5 200.2C968.6 201.0 967.5 201.9 966.6 202.7C965.6 203.5 964.6 204.4 963.8 205.2C963.1 206.1 962.5 206.9 962.1 207.7C961.6 208.6 961.2 209.4 961.0 210.2C960.7 211.1 960.5 211.9 960.4 212.8C960.3 213.6 960.3 214.4 960.4 215.3C960.5 216.1 960.6 217.0 960.9 217.8C961.1 218.6 961.4 219.5 961.8 220.3C962.2 221.1 962.7 222.0 963.3 222.8C963.9 223.7 964.7 224.5 965.5 225.3C966.3 226.2 967.2 227.0 968.1 227.8C969.1 228.7 970.0 229.5 971.0 230.4C972.0 231.2 973.1 232.0 974.1 232.9C975.0 233.7 975.8 234.6 976.5 235.4C977.2 236.2 977.8 237.1 978.1 237.9C978.3 238.7 978.4 239.6 978.2 240.4C978.1 241.3 977.8 242.1 977.3 242.9C976.8 243.8 976.2 244.6 975.5 245.4C974.7 246.3 973.6 247.1 972.6 248.0C971.6 248.8 970.5 249.6 969.6 250.5C968.6 251.3 967.7 252.2 966.9 253.0C966.0 253.8 965.2 254.7 964.5 255.5C963.8 256.3 963.1 257.2 962.4 258.0C961.8 258.9 961.0 260.1 960.7 260.5L958.0 260.5"/>
<path id="v12b" fill="#3274a1" d="M1028.2 87.9L1027.5 87.9C1027.5 88.4 1027.5 89.6 1027.4 90.5C1027.4 91.3 1027.3 92.1 1027.2 93.0C1027.1 93.8 1027.0 94.6 1026.8 95.5C1026.7 96.3 1026.5 97.2 1026.3 98.0C1026.0 98.8 1025.7 99.7 1025.4 100.5C1025.0 101.4 1024.6 102.2 1024.2 103.0C1023.8 103.9 1023.3 104.7 1022.8 105.6C1022.3 106.4 1021.8 107.2 1021.2 108.1C1020.6 108.9 1020.0 109.7 1019.3 110.6C1018.7 111.4 1018.0 112.3 1017.3 113.1C1016.6 113.9 1015.8 114.8 1015.1 115.6C1014.4 116.5 1013.7 117.3 1013.0 118.1C1012.3 119.0 1011.6 119.8 1010.9 120.6C1010.2 121.5 1009.5 122.3 1008.8 123.2C1008.2 124.0 1007.5 124.8 1006.9 125.7C1006.3 126.5 1005.7 127.4 1005.2 128.2C1004.6 129.0 1004.1 129.9 1003.6 130.7C1003.2 131.6 1002.7 132.4 1002.3 133.2C1001.9 134.1 1001.5 134.9 1001.2 135.7C1000.9 136.6 1000.7 137.4 1000.5 138.3C1000.3 139.1 1000.2 139.9 1000.1 140.8C1000.0 141.6 1000.1 142.5 1000.1 143.3C1000.2 144.1 1000.4 145.0 1000.6 145.8C1000.7 146.6 1001.0 147.5 1001.2 148.3C1001.5 149.2 1001.7 150.0 1002.1 150.8C1002.4 151.7 1002.7 152.5 1003.1 153.4C1003.5 154.2 1003.9 155.0 1004.3 155.9C1004.8 156.7 1005.3 157.6 1005.8 158.4C1006.3 159.2 1006.8 160.1 1007.3 160.9C1007.9 161.7 1008.5 162.6 1009.1 163.4C1009.7 164.3 1010.2 165.1 1010.8 165.9C1011.3 166.8 1011.9 167.6 1012.4 168.5C1013.0 169.3 1013.5 170.1 1014.0 171.0C1014.6 171.8 1015.1 172.7 1015.6 173.5C1016.1 174.3 1016.6 175.2 1017.1 176.0C1017.6 176.8 1018.0 177.7 1018.5 178.5C1018.9 179.4 1019.3 180.2 1019.7 181.0C1020.1 181.9 1020.4 182.7 1020.7 183.6C1021.1 184.4 1021.4 185.2 1021.6 186.1C1021.9 186.9 1022.1 187.7 1022.4 188.6C1022.6 189.4 1022.8 190.3 1023.0 191.1C1023.1 191.9 1023.3 192.8 1023.5 193.6C1023.6 194.5 1023.8 195.3 1023.9 196.1C1024.0 197.0 1024.2 197.8 1024.3 198.7C1024.4 199.5 1024.5 200.3 1024.6 201.2C1024.7 202.0 1024.8 202.8 1024.9 203.7C1025.0 204.5 1025.1 205.4 1025.1 206.2C1025.2 207.0 1025.3 207.9 1025.3 208.7C1025.4 209.6 1025.4 210.4 1025.5 211.2C1025.5 212.1 1025.6 212.9 1025.6 213.7C1025.6 214.6 1025.7 215.4 1025.7 216.3C1025.7 217.1 1025.7 217.9 1025.8 218.8C1025.8 219.6 1025.8 220.5 1025.8 221.3C1025.9 222.1 1025.9 223.0 1025.9 223.8C1025.9 224.7 1026.0 225.5 1026.0 226.3C1026.0 227.2 1026.0 228.0 1026.1 228.8C1026.1 229.7 1026.1 230.5 1026.1 231.4C1026.2 232.2 1026.2 233.0 1026.2 233.9C1026.3 234.7 1026.3 235.6 1026.3 236.4C1026.3 237.2 1026.4 238.1 1026.4 238.9C1026.4 239.7 1026.4 240.6 1026.5 241.4C1026.5 242.3 1026.5 243.1 1026.6 243.9C1026.6 244.8 1026.6 245.6 1026.6 246.5C1026.7 247.3 1026.7 248.1 1026.7 249.0C1026.8 249.8 1026.8 250.7 1026.8 251.5C1026.8 252.3 1026.9 253.2 1026.9 254.0C1026.9 254.8 1027.0 255.7 1027.0 256.5C1027.0 257.4 1027.1 258.2 1027.1 259.0C1027.1 259.9 1027.1 260.7 1027.2 261.6C1027.2 262.4 1027.2 263.2 1027.3 264.1C1027.3 264.9 1027.3 265.7 1027.4 266.6C1027.4 267.4 1027.4 268.3 1027.4 269.1C1027.5 269.9 1027.5 270.8 1027.5 271.6C1027.6 272.5 1027.6 273.3 1027.6 274.1C1027.7 275.0 1027.7 276.2 1027.7 276.7L1028.2 276.7"/>
<path id="v12o" fill="#e1812c" d="M1028.2 120.2L1028.5 120.2C1028.5 120.6 1028.6 121.9 1028.6 122.7C1028.7 123.6 1028.7 124.4 1028.8 125.3C1028.9 126.1 1028.9 127.0 1029.0 127.8C1029.1 128.7 1029.2 129.5 1029.4 130.4C1029.5 131.2 1029.6 132.1 1029.8 132.9C1029.9 133.8 1030.1 134.6 1030.3 135.5C1030.5 136.3 1030.7 137.2 1030.9 138.0C1031.1 138.9 1031.4 139.7 1031.6 140.6C1031.9 141.4 1032.2 142.2 1032.5 143.1C1032.8 143.9 1033.2 144.8 1033.6 145.6C1034.0 146.5 1034.5 147.3 1034.9 148.2C1035.4 149.0 1035.8 149.9 1036.3 150.7C1036.7 151.6 1037.2 152.4 1037.6 153.3C1038.1 154.1 1038.5 155.0 1038.9 155.8C1039.3 156.7 1039.8 157.5 1040.2 158.4C1040.6 159.2 1041.0 160.1 1041.4 160.9C1041.8 161.8 1042.2 162.6 1042.6 163.5C1043.0 164.3 1043.4 165.2 1043.8 166.0C1044.2 166.9 1044.6 167.7 1045.0 168.6C1045.4 169.4 1045.8 170.3 1046.2 171.1C1046.7 172.0 1047.1 172.8 1047.6 173.7C1048.0 174.5 1048.5 175.3 1049.1 176.2C1049.6 177.0 1050.3 177.9 1050.9 178.7C1051.5 179.6 1052.2 180.4 1052.7 181.3C1053.2 182.1 1053.6 183.0 1053.9 183.8C1054.2 184.7 1054.4 185.5 1054.4 186.4C1054.4 187.2 1054.3 188.1 1054.0 188.9C1053.8 189.8 1053.4 190.6 1052.9 191.5C1052.4 192.3 1051.8 193.2 1051.1 194.0C1050.4 194.9 1049.6 195.7 1048.7 196.6C1047.8 197.4 1046.8 198.3 1045.8 199.1C1044.8 200.0 1043.8 200.8 1042.7 201.7C1041.7 202.5 1040.6 203.4 1039.6 204.2C1038.6 205.1 1037.5 205.9 1036.7 206.8C1035.8 207.6 1035.1 208.4 1034.5 209.3C1033.9 210.1 1033.5 211.0 1033.1 211.8C1032.7 212.7 1032.4 213.5 1032.2 214.4C1032.0 215.2 1031.9 216.1 1031.9 216.9C1031.9 217.8 1032.0 218.6 1032.2 219.5C1032.5 220.3 1032.8 221.2 1033.3 222.0C1033.9 222.9 1034.6 223.7 1035.6 224.6C1036.7 225.4 1038.2 226.3 1039.6 227.1C1040.9 228.0 1042.4 228.8 1043.9 229.7C1045.3 230.5 1046.8 231.4 1048.2 232.2C1049.6 233.1 1051.0 233.9 1052.2 234.8C1053.4 235.6 1054.7 236.5 1055.4 237.3C1056.1 238.2 1056.5 239.0 1056.3 239.9C1056.1 240.7 1055.2 241.5 1054.4 242.4C1053.5 243.2 1052.3 244.1 1051.0 244.9C1049.8 245.8 1048.3 246.6 1046.9 247.5C1045.5 248.3 1043.9 249.2 1042.6 250.0C1041.3 250.9 1040.2 251.7 1039.0 252.6C1037.8 253.4 1036.8 254.3 1035.5 255.1C1034.1 256.0 1031.7 257.2 1030.9 257.7L1028.2 257.7"/>
<path id="v13b" fill="#3274a1" d="M1098.4 110.0L1097.7 110.0C1097.7 110.4 1097.7 111.7 1097.7 112.5C1097.7 113.4 1097.7 114.2 1097.6 115.1C1097.6 116.0 1097.5 116.8 1097.3 117.7C1097.0 118.5 1096.7 119.4 1096.2 120.2C1095.8 121.1 1095.2 121.9 1094.5 122.8C1093.8 123.6 1093.1 124.5 1092.2 125.3C1091.4 126.2 1090.3 127.0 1089.3 127.9C1088.3 128.8 1087.1 129.6 1086.2 130.5C1085.2 131.3 1084.4 132.2 1083.7 133.0C1082.9 133.9 1082.3 134.7 1081.7 135.6C1081.2 136.4 1080.7 137.3 1080.3 138.1C1079.8 139.0 1079.5 139.8 1079.2 140.7C1078.9 141.6 1078.6 142.4 1078.3 143.3C1077.9 144.1 1077.5 145.0 1076.9 145.8C1076.4 146.7 1075.6 147.5 1074.8 148.4C1074.1 149.2 1073.2 150.1 1072.6 150.9C1071.9 151.8 1071.3 152.6 1070.9 153.5C1070.6 154.4 1070.3 155.2 1070.3 156.1C1070.3 156.9 1070.7 157.8 1071.2 158.6C1071.6 159.5 1072.4 160.3 1073.1 161.2C1073.9 162.0 1074.8 162.9 1075.8 163.7C1076.8 164.6 1078.0 165.4 1079.3 166.3C1080.5 167.2 1081.8 168.0 1083.2 168.9C1084.6 169.7 1086.1 170.6 1087.5 171.4C1088.8 172.3 1090.1 173.1 1091.2 174.0C1092.3 174.8 1093.1 175.7 1094.1 176.5C1095.2 177.4 1096.8 178.7 1097.4 179.1L1098.4 179.1"/>
<path id="v13o" fill="#e1812c" d="M1098.4 120.2L1098.7 120.2C1098.7 120.6 1098.9 121.9 1099.0 122.7C1099.1 123.5 1099.3 124.4 1099.5 125.2C1099.7 126.1 1099.9 126.9 1100.2 127.7C1100.4 128.6 1100.7 129.4 1101.0 130.3C1101.3 131.1 1101.7 131.9 1102.1 132.8C1102.5 133.6 1102.9 134.5 1103.4 135.3C1104.0 136.1 1104.6 137.0 1105.2 137.8C1105.9 138.7 1106.6 139.5 1107.3 140.3C1108.1 141.2 1108.8 142.0 1109.6 142.9C1110.4 143.7 1111.3 144.5 1112.1 145.4C1113.0 146.2 1113.8 147.1 1114.7 147.9C1115.5 148.7 1116.3 149.6 1117.1 150.4C1117.9 151.3 1118.6 152.1 1119.4 152.9C1120.1 153.8 1120.8 154.6 1121.6 155.5C1122.3 156.3 1123.2 157.1 1123.8 158.0C1124.5 158.8 1125.1 159.7 1125.5 160.5C1125.9 161.3 1126.2 162.2 1126.4 163.0C1126.6 163.9 1126.6 164.7 1126.5 165.5C1126.4 166.4 1126.2 167.2 1126.0 168.0C1125.8 168.9 1125.5 169.7 1125.2 170.6C1125.0 171.4 1124.6 172.2 1124.3 173.1C1124.1 173.9 1123.8 174.8 1123.8 175.6C1123.7 176.4 1123.7 177.3 1123.8 178.1C1123.9 179.0 1124.1 179.8 1124.2 180.6C1124.4 181.5 1124.7 182.3 1124.7 183.2C1124.7 184.0 1124.5 184.8 1124.2 185.7C1123.8 186.5 1123.4 187.4 1122.8 188.2C1122.3 189.0 1121.6 189.9 1120.8 190.7C1120.0 191.6 1119.1 192.4 1118.1 193.2C1117.1 194.1 1116.0 194.9 1114.9 195.8C1113.7 196.6 1112.5 197.4 1111.4 198.3C1110.2 199.1 1109.0 200.0 1107.9 200.8C1106.7 201.6 1105.4 202.5 1104.5 203.3C1103.6 204.2 1102.9 205.0 1102.3 205.8C1101.8 206.7 1101.5 207.5 1101.3 208.4C1101.1 209.2 1101.1 210.0 1101.1 210.9C1101.1 211.7 1101.2 212.6 1101.2 213.4C1101.3 214.2 1101.3 215.1 1101.4 215.9C1101.5 216.8 1101.6 217.6 1101.8 218.4C1101.9 219.3 1102.1 220.1 1102.5 221.0C1102.8 221.8 1103.2 222.6 1103.8 223.5C1104.4 224.3 1105.2 225.2 1106.1 226.0C1106.9 226.8 1107.9 227.7 1108.9 228.5C1109.8 229.4 1110.7 230.2 1111.6 231.0C1112.4 231.9 1113.3 232.7 1114.1 233.6C1114.9 234.4 1115.6 235.2 1116.2 236.1C1116.7 236.9 1117.3 237.7 1117.5 238.6C1117.7 239.4 1117.4 240.3 1117.1 241.1C1116.8 241.9 1116.1 242.8 1115.5 243.6C1114.9 244.5 1114.1 245.3 1113.3 246.1C1112.5 247.0 1111.5 247.8 1110.6 248.7C1109.6 249.5 1108.7 250.3 1107.7 251.2C1106.8 252.0 1105.8 252.9 1104.9 253.7C1103.9 254.5 1102.5 255.8 1102.0 256.2L1098.4 256.2"/>
<path id="v14b" fill="#3274a1" d="M1168.6 133.4L1167.9 133.4C1167.9 133.9 1167.9 135.1 1167.8 136.0C1167.8 136.8 1167.8 137.6 1167.7 138.5C1167.6 139.3 1167.5 140.2 1167.4 141.0C1167.3 141.8 1167.1 142.7 1166.9 143.5C1166.7 144.4 1166.4 145.2 1166.1 146.0C1165.8 146.9 1165.5 147.7 1165.1 148.6C1164.8 149.4 1164.4 150.2 1164.0 151.1C1163.6 151.9 1163.2 152.8 1162.7 153.6C1162.3 154.4 1161.8 155.3 1161.3 156.1C1160.8 157.0 1160.3 157.8 1159.8 158.6C1159.2 159.5 1158.7 160.3 1158.1 161.2C1157.4 162.0 1156.8 162.8 1156.1 163.7C1155.4 164.5 1154.7 165.4 1153.9 166.2C1153.2 167.0 1152.4 167.9 1151.6 168.7C1150.8 169.6 1150.0 170.4 1149.2 171.2C1148.4 172.1 1147.5 172.9 1146.7 173.8C1145.9 174.6 1145.1 175.4 1144.5 176.3C1143.8 177.1 1143.2 178.0 1142.7 178.8C1142.2 179.6 1141.8 180.5 1141.4 181.3C1141.1 182.2 1140.9 183.0 1140.7 183.8C1140.6 184.7 1140.5 185.5 1140.5 186.4C1140.4 187.2 1140.5 188.0 1140.6 188.9C1140.7 189.7 1141.0 190.6 1141.2 191.4C1141.5 192.2 1141.8 193.1 1142.1 193.9C1142.5 194.8 1142.9 195.6 1143.4 196.4C1143.9 197.3 1144.5 198.1 1145.1 199.0C1145.7 199.8 1146.4 200.6 1147.0 201.5C1147.7 202.3 1148.5 203.2 1149.2 204.0C1150.0 204.8 1150.8 205.7 1151.5 206.5C1152.2 207.4 1152.9 208.2 1153.5 209.0C1154.2 209.9 1154.8 210.7 1155.3 211.6C1155.8 212.4 1156.3 213.2 1156.7 214.1C1157.1 214.9 1157.4 215.8 1157.7 216.6C1158.0 217.4 1158.2 218.3 1158.4 219.1C1158.6 220.0 1158.8 220.8 1158.9 221.6C1159.0 222.5 1159.0 223.3 1159.1 224.2C1159.1 225.0 1159.1 225.8 1159.0 226.7C1159.0 227.5 1158.9 228.4 1158.8 229.2C1158.7 230.0 1158.6 230.9 1158.5 231.7C1158.4 232.6 1158.3 233.4 1158.2 234.2C1158.1 235.1 1157.9 235.9 1157.9 236.8C1157.8 237.6 1157.8 238.4 1157.8 239.3C1157.9 240.1 1158.0 241.0 1158.2 241.8C1158.4 242.6 1158.6 243.5 1158.9 244.3C1159.1 245.2 1159.4 246.0 1159.6 246.8C1159.8 247.7 1160.1 248.5 1160.3 249.4C1160.5 250.2 1160.8 251.0 1161.0 251.9C1161.3 252.7 1161.5 253.6 1161.8 254.4C1162.1 255.2 1162.4 256.1 1162.7 256.9C1163.0 257.8 1163.3 258.6 1163.6 259.4C1164.0 260.3 1164.3 261.1 1164.6 262.0C1165.0 262.8 1165.3 263.6 1165.6 264.5C1165.9 265.3 1166.1 266.2 1166.4 267.0C1166.6 267.8 1166.9 269.1 1167.1 269.5L1168.6 269.5"/>
<path id="v14s" fill="#e1812c" d="M1168.6 233.7L1196.6 239.0L1168.6 244.3"/>
<path id="v15b" fill="#3274a1" d="M1238.8 111.0L1238.1 111.0C1238.1 111.4 1238.1 112.7 1238.2 113.5C1238.2 114.4 1238.2 115.2 1238.2 116.1C1238.2 116.9 1238.2 117.8 1238.2 118.6C1238.1 119.5 1238.1 120.3 1238.0 121.1C1237.8 122.0 1237.7 122.8 1237.4 123.7C1237.2 124.5 1236.9 125.4 1236.5 126.2C1236.2 127.1 1235.7 127.9 1235.3 128.8C1234.9 129.6 1234.5 130.4 1234.0 131.3C1233.5 132.1 1233.0 133.0 1232.5 133.8C1231.9 134.7 1231.4 135.5 1230.8 136.4C1230.2 137.2 1229.5 138.1 1228.9 138.9C1228.3 139.8 1227.6 140.6 1227.0 141.4C1226.3 142.3 1225.7 143.1 1225.0 144.0C1224.3 144.8 1223.6 145.7 1222.9 146.5C1222.2 147.4 1221.5 148.2 1220.9 149.1C1220.2 149.9 1219.6 150.7 1219.0 151.6C1218.3 152.4 1217.7 153.3 1217.2 154.1C1216.6 155.0 1216.0 155.8 1215.5 156.7C1215.0 157.5 1214.5 158.4 1214.0 159.2C1213.6 160.0 1213.2 160.9 1212.8 161.7C1212.5 162.6 1212.2 163.4 1211.9 164.3C1211.7 165.1 1211.4 166.0 1211.2 166.8C1211.0 167.7 1210.9 168.5 1210.8 169.3C1210.7 170.2 1210.6 171.0 1210.7 171.9C1210.7 172.7 1210.7 173.6 1210.8 174.4C1210.9 175.3 1211.0 176.1 1211.3 177.0C1211.5 177.8 1211.8 178.6 1212.2 179.5C1212.7 180.3 1213.3 181.2 1213.9 182.0C1214.5 182.9 1215.1 183.7 1215.8 184.6C1216.4 185.4 1217.1 186.3 1217.7 187.1C1218.4 188.0 1219.1 188.8 1219.8 189.6C1220.5 190.5 1221.1 191.3 1221.8 192.2C1222.5 193.0 1223.2 193.9 1223.9 194.7C1224.6 195.6 1225.3 196.4 1226.0 197.3C1226.7 198.1 1227.4 198.9 1228.1 199.8C1228.8 200.6 1229.4 201.5 1230.0 202.3C1230.6 203.2 1231.2 204.0 1231.7 204.9C1232.3 205.7 1232.8 206.6 1233.3 207.4C1233.7 208.2 1234.2 209.1 1234.6 209.9C1235.0 210.8 1235.3 211.6 1235.6 212.5C1235.8 213.3 1236.0 214.2 1236.2 215.0C1236.3 215.9 1236.4 216.7 1236.5 217.5C1236.6 218.4 1236.7 219.2 1236.8 220.1C1236.8 220.9 1236.8 221.8 1236.9 222.6C1236.9 223.5 1236.9 224.3 1236.9 225.2C1236.9 226.0 1236.9 226.9 1237.0 227.7C1237.0 228.5 1237.0 229.4 1237.0 230.2C1237.0 231.1 1237.1 231.9 1237.1 232.8C1237.1 233.6 1237.1 234.5 1237.2 235.3C1237.2 236.2 1237.2 237.0 1237.2 237.8C1237.3 238.7 1237.3 239.5 1237.3 240.4C1237.4 241.2 1237.4 242.1 1237.4 242.9C1237.4 243.8 1237.5 244.6 1237.5 245.5C1237.5 246.3 1237.6 247.1 1237.6 248.0C1237.6 248.8 1237.7 249.7 1237.7 250.5C1237.7 251.4 1237.7 252.2 1237.8 253.1C1237.8 253.9 1237.8 254.8 1237.9 255.6C1237.9 256.4 1237.9 257.3 1237.9 258.1C1238.0 259.0 1238.0 259.8 1238.0 260.7C1238.0 261.5 1238.1 262.4 1238.1 263.2C1238.1 264.1 1238.1 264.9 1238.2 265.7C1238.2 266.6 1238.2 267.9 1238.3 268.3L1238.8 268.3"/>
<path id="v15o" fill="#e1812c" d="M1238.8 149.0L1239.0 149.0C1239.2 149.4 1239.5 150.7 1239.8 151.5C1240.0 152.4 1240.2 153.2 1240.4 154.1C1240.5 154.9 1240.7 155.8 1240.8 156.6C1241.0 157.5 1241.1 158.3 1241.2 159.2C1241.3 160.0 1241.4 160.8 1241.5 161.7C1241.6 162.5 1241.7 163.4 1241.9 164.2C1242.0 165.1 1242.1 165.9 1242.3 166.8C1242.5 167.6 1242.7 168.5 1242.9 169.3C1243.1 170.2 1243.4 171.0 1243.6 171.8C1243.8 172.7 1244.0 173.5 1244.2 174.4C1244.4 175.2 1244.6 176.1 1244.9 176.9C1245.2 177.8 1245.5 178.6 1245.8 179.5C1246.2 180.3 1246.5 181.2 1246.8 182.0C1247.1 182.9 1247.4 183.7 1247.7 184.5C1247.9 185.4 1248.1 186.2 1248.3 187.1C1248.4 187.9 1248.6 188.8 1248.6 189.6C1248.6 190.5 1248.6 191.3 1248.5 192.2C1248.4 193.0 1248.2 193.9 1248.0 194.7C1247.7 195.5 1247.4 196.4 1247.0 197.2C1246.7 198.1 1246.2 198.9 1245.8 199.8C1245.3 200.6 1244.7 201.5 1244.2 202.3C1243.7 203.2 1243.2 204.0 1242.7 204.9C1242.3 205.7 1241.9 206.5 1241.6 207.4C1241.3 208.2 1241.1 209.1 1241.0 209.9C1240.9 210.8 1240.9 211.6 1240.9 212.5C1241.0 213.3 1241.0 214.2 1241.1 215.0C1241.1 215.9 1241.2 216.7 1241.3 217.5C1241.5 218.4 1241.7 219.2 1242.1 220.1C1242.5 220.9 1242.9 221.8 1243.7 222.6C1244.6 223.5 1245.7 224.3 1247.0 225.2C1248.3 226.0 1250.2 226.9 1251.7 227.7C1253.2 228.6 1254.8 229.4 1256.2 230.2C1257.7 231.1 1259.1 231.9 1260.4 232.8C1261.7 233.6 1262.9 234.5 1263.9 235.3C1265.0 236.2 1266.1 237.0 1266.6 237.9C1267.1 238.7 1267.1 239.6 1266.8 240.4C1266.6 241.2 1265.8 242.1 1264.8 242.9C1263.9 243.8 1262.7 244.6 1261.2 245.5C1259.8 246.3 1257.8 247.2 1256.1 248.0C1254.5 248.9 1252.9 249.7 1251.3 250.6C1249.8 251.4 1248.7 252.2 1247.0 253.1C1245.4 253.9 1242.5 255.2 1241.5 255.6L1238.8 255.6"/>
<path id="v16b" fill="#3274a1" d="M1308.9 120.8L1308.2 120.8C1308.2 121.2 1308.2 122.5 1308.2 123.3C1308.1 124.2 1308.1 125.0 1308.0 125.9C1308.0 126.7 1307.9 127.6 1307.8 128.4C1307.7 129.2 1307.6 130.1 1307.4 130.9C1307.2 131.8 1307.0 132.6 1306.8 133.5C1306.5 134.3 1306.2 135.2 1305.9 136.0C1305.6 136.9 1305.2 137.7 1304.8 138.5C1304.4 139.4 1304.0 140.2 1303.5 141.1C1303.1 141.9 1302.7 142.8 1302.2 143.6C1301.8 144.5 1301.4 145.3 1300.9 146.1C1300.5 147.0 1300.0 147.8 1299.5 148.7C1299.0 149.5 1298.5 150.4 1298.0 151.2C1297.5 152.1 1297.0 152.9 1296.5 153.8C1295.9 154.6 1295.4 155.4 1294.8 156.3C1294.3 157.1 1293.7 158.0 1293.1 158.8C1292.5 159.7 1291.9 160.5 1291.3 161.4C1290.6 162.2 1290.0 163.0 1289.4 163.9C1288.9 164.7 1288.3 165.6 1287.8 166.4C1287.2 167.3 1286.7 168.1 1286.2 169.0C1285.7 169.8 1285.2 170.7 1284.7 171.5C1284.3 172.3 1283.8 173.2 1283.4 174.0C1283.1 174.9 1282.7 175.7 1282.4 176.6C1282.1 177.4 1281.8 178.3 1281.6 179.1C1281.3 179.9 1281.1 180.8 1281.0 181.6C1280.9 182.5 1280.8 183.3 1280.8 184.2C1280.8 185.0 1281.0 185.9 1281.1 186.7C1281.2 187.5 1281.4 188.4 1281.6 189.2C1281.8 190.1 1282.1 190.9 1282.4 191.8C1282.6 192.6 1282.9 193.5 1283.2 194.3C1283.5 195.2 1283.8 196.0 1284.1 196.8C1284.5 197.7 1284.8 198.5 1285.2 199.4C1285.5 200.2 1285.9 201.1 1286.2 201.9C1286.6 202.8 1286.9 203.6 1287.3 204.4C1287.7 205.3 1288.0 206.1 1288.4 207.0C1288.8 207.8 1289.1 208.7 1289.5 209.5C1289.8 210.4 1290.1 211.2 1290.4 212.1C1290.7 212.9 1291.0 213.7 1291.3 214.6C1291.5 215.4 1291.8 216.3 1292.0 217.1C1292.2 218.0 1292.4 218.8 1292.6 219.7C1292.7 220.5 1292.9 221.3 1292.9 222.2C1293.0 223.0 1293.0 223.9 1293.0 224.7C1293.0 225.6 1293.0 226.4 1292.9 227.3C1292.9 228.1 1292.8 229.0 1292.7 229.8C1292.7 230.6 1292.6 231.5 1292.5 232.3C1292.5 233.2 1292.4 234.0 1292.4 234.9C1292.4 235.7 1292.5 236.6 1292.5 237.4C1292.6 238.2 1292.6 239.1 1292.7 239.9C1292.8 240.8 1292.9 241.6 1293.1 242.5C1293.2 243.3 1293.4 244.2 1293.6 245.0C1293.8 245.9 1294.0 246.7 1294.3 247.5C1294.6 248.4 1294.9 249.2 1295.2 250.1C1295.5 250.9 1295.8 251.8 1296.1 252.6C1296.5 253.5 1296.8 254.3 1297.2 255.1C1297.6 256.0 1298.0 256.8 1298.5 257.7C1298.9 258.5 1299.3 259.4 1299.8 260.2C1300.3 261.1 1300.7 261.9 1301.2 262.8C1301.7 263.6 1302.2 264.4 1302.6 265.3C1303.1 266.1 1303.7 267.0 1304.1 267.8C1304.6 268.7 1305.0 269.5 1305.4 270.4C1305.7 271.2 1306.0 272.0 1306.3 272.9C1306.5 273.7 1306.7 275.0 1306.7 275.4L1308.9 275.4"/>
<path id="v17b" fill="#3274a1" d="M1379.1 93.0L1378.4 93.0C1378.4 93.5 1378.4 94.7 1378.4 95.5C1378.4 96.4 1378.4 97.2 1378.3 98.1C1378.3 98.9 1378.3 99.7 1378.2 100.6C1378.2 101.4 1378.1 102.2 1378.1 103.1C1378.0 103.9 1377.9 104.7 1377.8 105.6C1377.8 106.4 1377.7 107.2 1377.5 108.1C1377.4 108.9 1377.2 109.8 1377.0 110.6C1376.9 111.4 1376.6 112.3 1376.4 113.1C1376.2 113.9 1375.9 114.8 1375.7 115.6C1375.4 116.4 1375.1 117.3 1374.8 118.1C1374.5 118.9 1374.2 119.8 1373.9 120.6C1373.5 121.5 1373.2 122.3 1372.9 123.1C1372.5 124.0 1372.1 124.8 1371.7 125.6C1371.4 126.5 1370.9 127.3 1370.5 128.1C1370.1 129.0 1369.7 129.8 1369.2 130.6C1368.8 131.5 1368.3 132.3 1367.9 133.2C1367.4 134.0 1366.9 134.8 1366.5 135.7C1366.0 136.5 1365.5 137.3 1365.0 138.2C1364.5 139.0 1363.9 139.8 1363.4 140.7C1362.9 141.5 1362.4 142.4 1361.9 143.2C1361.4 144.0 1360.9 144.9 1360.5 145.7C1360.0 146.5 1359.6 147.4 1359.2 148.2C1358.8 149.0 1358.5 149.9 1358.2 150.7C1357.8 151.5 1357.5 152.4 1357.2 153.2C1356.9 154.1 1356.6 154.9 1356.3 155.7C1356.1 156.6 1355.8 157.4 1355.5 158.2C1355.3 159.1 1355.0 159.9 1354.8 160.7C1354.5 161.6 1354.3 162.4 1354.0 163.2C1353.7 164.1 1353.4 164.9 1353.2 165.8C1352.9 166.6 1352.6 167.4 1352.4 168.3C1352.2 169.1 1351.9 169.9 1351.7 170.8C1351.6 171.6 1351.4 172.4 1351.3 173.3C1351.2 174.1 1351.1 174.9 1351.1 175.8C1351.0 176.6 1351.0 177.5 1351.0 178.3C1351.0 179.1 1351.0 180.0 1351.1 180.8C1351.1 181.6 1351.1 182.5 1351.2 183.3C1351.2 184.1 1351.3 185.0 1351.4 185.8C1351.5 186.6 1351.5 187.5 1351.6 188.3C1351.7 189.2 1351.8 190.0 1352.0 190.8C1352.1 191.7 1352.2 192.5 1352.3 193.3C1352.5 194.2 1352.6 195.0 1352.7 195.8C1352.9 196.7 1353.0 197.5 1353.2 198.3C1353.3 199.2 1353.4 200.0 1353.6 200.9C1353.7 201.7 1353.9 202.5 1354.0 203.4C1354.2 204.2 1354.4 205.0 1354.5 205.9C1354.7 206.7 1354.8 207.5 1355.0 208.4C1355.2 209.2 1355.3 210.0 1355.5 210.9C1355.6 211.7 1355.8 212.6 1356.0 213.4C1356.1 214.2 1356.3 215.1 1356.4 215.9C1356.6 216.7 1356.7 217.6 1356.8 218.4C1357.0 219.2 1357.1 220.1 1357.3 220.9C1357.4 221.7 1357.5 222.6 1357.6 223.4C1357.8 224.3 1357.9 225.1 1358.0 225.9C1358.1 226.8 1358.2 227.6 1358.3 228.4C1358.4 229.3 1358.4 230.1 1358.5 230.9C1358.6 231.8 1358.6 232.6 1358.7 233.4C1358.7 234.3 1358.7 235.1 1358.8 236.0C1358.9 236.8 1358.9 237.6 1359.0 238.5C1359.1 239.3 1359.1 240.1 1359.2 241.0C1359.4 241.8 1359.5 242.6 1359.6 243.5C1359.8 244.3 1360.0 245.1 1360.3 246.0C1360.5 246.8 1360.8 247.7 1361.1 248.5C1361.4 249.3 1361.7 250.2 1362.0 251.0C1362.3 251.8 1362.7 252.7 1363.0 253.5C1363.4 254.3 1363.7 255.2 1364.1 256.0C1364.5 256.8 1364.9 257.7 1365.3 258.5C1365.7 259.4 1366.1 260.2 1366.5 261.0C1367.0 261.9 1367.4 262.7 1367.8 263.5C1368.3 264.4 1368.7 265.2 1369.2 266.0C1369.6 266.9 1370.0 267.7 1370.5 268.5C1371.0 269.4 1371.4 270.2 1371.9 271.1C1372.3 271.9 1372.8 272.7 1373.2 273.6C1373.6 274.4 1374.1 275.2 1374.4 276.1C1374.8 276.9 1375.2 277.7 1375.5 278.6C1375.8 279.4 1376.0 280.2 1376.3 281.1C1376.5 281.9 1376.8 283.2 1376.9 283.6L1379.1 283.6"/>
<path id="v17s" fill="#e1812c" d="M1379.1 237.3L1407.2 239.0L1379.1 240.7"/>
<path id="v18b" fill="#3274a1" d="M1449.3 95.3L1448.6 95.3C1448.6 95.7 1448.6 97.0 1448.6 97.8C1448.5 98.7 1448.5 99.5 1448.4 100.4C1448.4 101.2 1448.3 102.1 1448.2 102.9C1448.1 103.8 1448.0 104.6 1447.8 105.5C1447.6 106.3 1447.3 107.1 1447.0 108.0C1446.7 108.8 1446.3 109.7 1445.9 110.5C1445.5 111.4 1445.0 112.2 1444.5 113.1C1444.0 113.9 1443.5 114.8 1442.9 115.6C1442.3 116.5 1441.7 117.3 1441.0 118.2C1440.3 119.0 1439.6 119.9 1438.9 120.7C1438.2 121.6 1437.5 122.4 1436.8 123.2C1436.1 124.1 1435.5 124.9 1434.9 125.8C1434.3 126.6 1433.8 127.5 1433.2 128.3C1432.7 129.2 1432.2 130.0 1431.8 130.9C1431.3 131.7 1430.8 132.6 1430.4 133.4C1429.9 134.3 1429.5 135.1 1429.0 136.0C1428.6 136.8 1428.2 137.7 1427.7 138.5C1427.3 139.3 1426.8 140.2 1426.4 141.0C1425.9 141.9 1425.5 142.7 1425.1 143.6C1424.6 144.4 1424.2 145.3 1423.9 146.1C1423.5 147.0 1423.2 147.8 1422.9 148.7C1422.5 149.5 1422.2 150.4 1422.0 151.2C1421.7 152.1 1421.5 152.9 1421.4 153.8C1421.3 154.6 1421.2 155.4 1421.2 156.3C1421.2 157.1 1421.3 158.0 1421.5 158.8C1421.6 159.7 1421.9 160.5 1422.2 161.4C1422.4 162.2 1422.8 163.1 1423.1 163.9C1423.5 164.8 1423.9 165.6 1424.4 166.5C1424.9 167.3 1425.4 168.2 1426.0 169.0C1426.5 169.9 1427.1 170.7 1427.7 171.5C1428.3 172.4 1428.9 173.2 1429.6 174.1C1430.2 174.9 1430.9 175.8 1431.5 176.6C1432.2 177.5 1432.8 178.3 1433.5 179.2C1434.1 180.0 1434.7 180.9 1435.3 181.7C1435.9 182.6 1436.4 183.4 1436.9 184.3C1437.4 185.1 1437.9 186.0 1438.3 186.8C1438.7 187.6 1439.2 188.5 1439.5 189.3C1439.9 190.2 1440.3 191.0 1440.7 191.9C1441.0 192.7 1441.3 193.6 1441.7 194.4C1442.0 195.3 1442.3 196.1 1442.6 197.0C1442.9 197.8 1443.2 198.7 1443.5 199.5C1443.7 200.4 1444.0 201.2 1444.3 202.0C1444.5 202.9 1444.8 203.7 1445.0 204.6C1445.2 205.4 1445.5 206.3 1445.7 207.1C1445.9 208.0 1446.1 208.8 1446.4 209.7C1446.6 210.5 1446.8 211.4 1447.0 212.2C1447.1 213.1 1447.3 213.9 1447.5 214.8C1447.6 215.6 1447.7 216.5 1447.8 217.3C1447.9 218.1 1448.0 219.0 1448.0 219.8C1448.1 220.7 1448.2 221.5 1448.2 222.4C1448.2 223.2 1448.3 224.1 1448.3 224.9C1448.3 225.8 1448.3 227.0 1448.3 227.5L1449.3 227.5"/>
<path id="v18o" fill="#e1812c" d="M1449.3 126.3L1449.6 126.3C1449.6 126.7 1449.6 128.0 1449.7 128.8C1449.7 129.7 1449.8 130.5 1449.9 131.3C1450.0 132.2 1450.1 133.0 1450.2 133.8C1450.4 134.7 1450.5 135.5 1450.7 136.4C1450.9 137.2 1451.1 138.0 1451.3 138.9C1451.6 139.7 1451.8 140.6 1452.1 141.4C1452.5 142.2 1452.8 143.1 1453.2 143.9C1453.7 144.7 1454.2 145.6 1454.7 146.4C1455.2 147.3 1455.7 148.1 1456.3 148.9C1456.8 149.8 1457.4 150.6 1457.9 151.5C1458.4 152.3 1458.9 153.1 1459.4 154.0C1459.9 154.8 1460.4 155.6 1460.9 156.5C1461.4 157.3 1461.9 158.2 1462.3 159.0C1462.8 159.8 1463.3 160.7 1463.7 161.5C1464.2 162.3 1464.6 163.2 1465.0 164.0C1465.4 164.9 1465.8 165.7 1466.2 166.5C1466.7 167.4 1467.0 168.2 1467.4 169.1C1467.8 169.9 1468.2 170.7 1468.6 171.6C1469.0 172.4 1469.3 173.2 1469.7 174.1C1470.1 174.9 1470.5 175.8 1470.8 176.6C1471.2 177.4 1471.6 178.3 1471.9 179.1C1472.2 179.9 1472.4 180.8 1472.7 181.6C1472.9 182.5 1473.1 183.3 1473.2 184.1C1473.4 185.0 1473.5 185.8 1473.4 186.7C1473.3 187.5 1473.0 188.3 1472.6 189.2C1472.2 190.0 1471.7 190.8 1471.1 191.7C1470.6 192.5 1469.9 193.4 1469.2 194.2C1468.4 195.0 1467.5 195.9 1466.6 196.7C1465.6 197.6 1464.6 198.4 1463.6 199.2C1462.6 200.1 1461.6 200.9 1460.5 201.7C1459.5 202.6 1458.4 203.4 1457.4 204.3C1456.5 205.1 1455.5 205.9 1454.8 206.8C1454.1 207.6 1453.7 208.4 1453.3 209.3C1452.8 210.1 1452.5 211.0 1452.3 211.8C1452.1 212.6 1451.9 213.5 1451.9 214.3C1451.8 215.2 1451.8 216.0 1451.9 216.8C1452.0 217.7 1452.3 218.5 1452.6 219.3C1453.0 220.2 1453.5 221.0 1454.2 221.9C1454.9 222.7 1455.7 223.5 1456.9 224.4C1458.1 225.2 1459.7 226.0 1461.1 226.9C1462.6 227.7 1464.1 228.6 1465.7 229.4C1467.2 230.2 1468.8 231.1 1470.2 231.9C1471.6 232.8 1473.0 233.6 1474.1 234.4C1475.3 235.3 1476.6 236.1 1477.1 236.9C1477.7 237.8 1477.8 238.6 1477.4 239.5C1477.0 240.3 1475.9 241.1 1474.8 242.0C1473.7 242.8 1472.4 243.7 1471.0 244.5C1469.6 245.3 1468.0 246.2 1466.5 247.0C1465.1 247.8 1463.6 248.7 1462.3 249.5C1461.0 250.4 1459.8 251.2 1458.6 252.0C1457.5 252.9 1456.3 253.7 1455.2 254.5C1454.1 255.4 1452.5 256.6 1452.0 257.1L1449.3 257.1"/>
<path id="v19b" fill="#3274a1" d="M1519.5 89.2L1518.8 89.2C1518.8 89.6 1518.8 90.8 1518.8 91.7C1518.7 92.5 1518.7 93.3 1518.7 94.2C1518.7 95.0 1518.7 95.8 1518.6 96.7C1518.6 97.5 1518.5 98.3 1518.5 99.2C1518.4 100.0 1518.3 100.8 1518.2 101.7C1518.2 102.5 1518.1 103.3 1517.9 104.2C1517.8 105.0 1517.7 105.8 1517.5 106.7C1517.4 107.5 1517.2 108.3 1517.0 109.2C1516.7 110.0 1516.5 110.8 1516.2 111.7C1516.0 112.5 1515.7 113.3 1515.4 114.2C1515.1 115.0 1514.8 115.8 1514.5 116.7C1514.2 117.5 1513.9 118.3 1513.6 119.2C1513.2 120.0 1512.9 120.8 1512.6 121.7C1512.3 122.5 1511.9 123.3 1511.6 124.2C1511.2 125.0 1510.9 125.8 1510.5 126.7C1510.2 127.5 1509.8 128.3 1509.4 129.2C1509.1 130.0 1508.7 130.8 1508.3 131.7C1508.0 132.5 1507.6 133.3 1507.2 134.2C1506.9 135.0 1506.5 135.8 1506.2 136.7C1505.8 137.5 1505.4 138.3 1505.1 139.2C1504.7 140.0 1504.3 140.8 1504.0 141.7C1503.6 142.5 1503.2 143.3 1502.9 144.2C1502.5 145.0 1502.2 145.8 1501.8 146.7C1501.5 147.5 1501.1 148.3 1500.8 149.2C1500.5 150.0 1500.1 150.8 1499.8 151.7C1499.5 152.5 1499.2 153.3 1498.8 154.2C1498.5 155.0 1498.2 155.8 1497.9 156.7C1497.6 157.5 1497.3 158.3 1497.0 159.2C1496.7 160.0 1496.5 160.8 1496.2 161.7C1495.9 162.5 1495.7 163.3 1495.4 164.2C1495.2 165.0 1495.0 165.8 1494.8 166.7C1494.5 167.5 1494.3 168.3 1494.1 169.2C1493.9 170.0 1493.7 170.8 1493.5 171.7C1493.3 172.5 1493.1 173.3 1492.9 174.2C1492.7 175.0 1492.5 175.8 1492.3 176.7C1492.1 177.5 1491.9 178.3 1491.7 179.2C1491.6 180.0 1491.4 180.8 1491.4 181.7C1491.3 182.5 1491.3 183.3 1491.4 184.2C1491.4 185.0 1491.5 185.9 1491.6 186.7C1491.7 187.5 1491.8 188.4 1491.9 189.2C1492.1 190.0 1492.2 190.9 1492.4 191.7C1492.5 192.5 1492.7 193.4 1492.8 194.2C1493.0 195.0 1493.1 195.9 1493.2 196.7C1493.4 197.5 1493.5 198.4 1493.7 199.2C1493.8 200.0 1493.9 200.9 1494.0 201.7C1494.2 202.5 1494.3 203.4 1494.4 204.2C1494.5 205.0 1494.6 205.9 1494.8 206.7C1494.9 207.5 1495.0 208.4 1495.1 209.2C1495.2 210.0 1495.4 210.9 1495.5 211.7C1495.6 212.5 1495.7 213.4 1495.8 214.2C1496.0 215.0 1496.1 215.9 1496.2 216.7C1496.3 217.5 1496.4 218.4 1496.6 219.2C1496.7 220.0 1496.8 220.9 1496.9 221.7C1497.0 222.5 1497.2 223.4 1497.3 224.2C1497.4 225.0 1497.5 225.9 1497.6 226.7C1497.7 227.5 1497.8 228.4 1497.9 229.2C1498.0 230.0 1498.1 230.9 1498.1 231.7C1498.2 232.5 1498.3 233.4 1498.4 234.2C1498.5 235.0 1498.6 235.9 1498.8 236.7C1498.9 237.5 1499.0 238.4 1499.2 239.2C1499.4 240.0 1499.5 240.9 1499.7 241.7C1499.9 242.5 1500.2 243.4 1500.4 244.2C1500.6 245.0 1500.9 245.9 1501.2 246.7C1501.5 247.5 1501.8 248.4 1502.1 249.2C1502.4 250.0 1502.7 250.9 1503.1 251.7C1503.5 252.5 1503.9 253.4 1504.3 254.2C1504.7 255.0 1505.1 255.9 1505.6 256.7C1506.0 257.5 1506.4 258.4 1506.9 259.2C1507.3 260.0 1507.8 260.9 1508.2 261.7C1508.6 262.5 1509.0 263.4 1509.4 264.2C1509.8 265.0 1510.2 265.9 1510.5 266.7C1510.9 267.5 1511.3 268.4 1511.6 269.2C1512.0 270.0 1512.4 270.9 1512.7 271.7C1513.0 272.5 1513.4 273.4 1513.7 274.2C1514.0 275.0 1514.4 275.9 1514.7 276.7C1515.0 277.5 1515.3 278.4 1515.6 279.2C1515.9 280.0 1516.2 280.9 1516.4 281.7C1516.7 282.5 1517.1 283.8 1517.3 284.2L1519.5 284.2"/>
<path id="v19s" fill="#e1812c" d="M1519.5 236.5L1547.5 239.0L1519.5 241.5"/>
</g>
<path fill="none" stroke="#404040" stroke-width="3.3" stroke-linecap="round" d="M186.1 80.4V254.0M256.2 82.4V256.7M326.4 102.8V256.0M396.6 80.8V249.9M466.8 121.6V254.2M537.0 120.8V273.4M607.1 110.6V257.7M677.3 92.2V275.0M747.5 76.9V281.1M817.7 126.7V253.6M887.9 97.7V258.1M958.0 79.4V260.5M1028.2 87.9V276.7M1098.4 110.0V256.2M1168.6 133.4V269.5M1238.8 111.0V268.3M1308.9 120.8V275.4M1379.1 93.0V283.6M1449.3 95.3V257.1M1519.5 89.2V284.2"/>
<g stroke="#c8c8c8" stroke-width="2.0">
<path d="M150.0 150.0H1554.0"/>
<path d="M150.0 239.0H1554.0"/>
</g>
<path d="M1308.9 239.0H1337.0" stroke="#404040" stroke-width="3.1" stroke-linecap="square"/>
<g fill="#000">
<circle cx="172.0" cy="90.2" r="1.30"/>
<circle cx="172.0" cy="93.7" r="1.30"/>
<circle cx="172.0" cy="101.8" r="1.30"/>
<circle cx="172.0" cy="104.3" r="1.30"/>
<circle cx="172.0" cy="106.7" r="1.30"/>
<circle cx="172.0" cy="109.2" r="1.30"/>
<circle cx="172.0" cy="111.6" r="1.30"/>
<circle cx="172.0" cy="114.1" r="1.30"/>
<circle cx="172.0" cy="116.5" r="1.30"/>
<circle cx="172.0" cy="119.0" r="1.30"/>
<circle cx="200.1" cy="102.2" r="1.50"/>
<circle cx="200.1" cy="199.5" r="1.50"/>
<rect x="198.3" y="237.2" width="3.5" height="3.6" rx="1.1"/>
<path d="M200.1 107.9V194.4" stroke="#000" stroke-width="3.4" stroke-linecap="round"/>
<circle cx="242.2" cy="96.3" r="1.30"/>
<circle cx="242.2" cy="98.4" r="1.30"/>
<circle cx="242.2" cy="100.8" r="1.30"/>
<circle cx="242.2" cy="105.3" r="1.30"/>
<circle cx="242.2" cy="108.0" r="1.30"/>
<circle cx="242.2" cy="110.0" r="1.30"/>
<circle cx="242.2" cy="114.7" r="1.30"/>
<circle cx="242.2" cy="118.2" r="1.30"/>
<circle cx="242.2" cy="122.2" r="1.30"/>
<circle cx="242.2" cy="126.3" r="1.30"/>
<circle cx="242.2" cy="130.4" r="1.30"/>
<circle cx="242.2" cy="133.1" r="1.30"/>
<rect x="268.5" y="237.2" width="3.5" height="3.6" rx="1.1"/>
<path d="M270.3 109.0V194.4" stroke="#000" stroke-width="3.4" stroke-linecap="round"/>
<circle cx="312.4" cy="123.3" r="1.30"/>
<circle cx="312.4" cy="130.4" r="1.30"/>
<circle cx="312.4" cy="137.6" r="1.30"/>
<circle cx="312.4" cy="141.6" r="1.30"/>
<circle cx="312.4" cy="144.7" r="1.30"/>
<circle cx="312.4" cy="147.8" r="1.30"/>
<circle cx="312.4" cy="154.9" r="1.30"/>
<circle cx="312.4" cy="167.1" r="1.30"/>
<circle cx="312.4" cy="175.3" r="1.30"/>
<circle cx="340.4" cy="131.4" r="1.50"/>
<circle cx="340.4" cy="138.6" r="1.50"/>
<circle cx="340.4" cy="204.6" r="1.50"/>
<circle cx="340.4" cy="207.7" r="1.50"/>
<circle cx="340.4" cy="213.2" r="1.50"/>
<rect x="338.7" y="237.2" width="3.5" height="3.6" rx="1.1"/>
<path d="M340.4 143.7V201.1" stroke="#000" stroke-width="3.4" stroke-linecap="round"/>
<circle cx="382.6" cy="92.2" r="1.30"/>
<circle cx="382.6" cy="94.7" r="1.30"/>
<circle cx="382.6" cy="97.1" r="1.30"/>
<circle cx="382.6" cy="99.8" r="1.30"/>
<circle cx="382.6" cy="102.4" r="1.30"/>
<circle cx="382.6" cy="104.9" r="1.30"/>
<circle cx="382.6" cy="107.3" r="1.30"/>
<circle cx="382.6" cy="110.0" r="1.30"/>
<circle cx="382.6" cy="114.7" r="1.30"/>
<circle cx="382.6" cy="129.4" r="1.30"/>
<circle cx="410.6" cy="175.0" r="1.50"/>
<circle cx="410.6" cy="176.6" r="1.50"/>
<circle cx="410.6" cy="178.3" r="1.50"/>
<circle cx="410.6" cy="179.9" r="1.50"/>
<circle cx="410.6" cy="181.5" r="1.50"/>
<circle cx="410.6" cy="183.2" r="1.50"/>
<circle cx="410.6" cy="184.8" r="1.50"/>
<circle cx="410.6" cy="186.4" r="1.50"/>
<circle cx="410.6" cy="188.1" r="1.50"/>
<circle cx="410.6" cy="189.7" r="1.50"/>
<circle cx="410.6" cy="191.3" r="1.50"/>
<rect x="408.9" y="237.2" width="3.5" height="3.6" rx="1.1"/>
<path d="M410.6 94.7V169.2" stroke="#000" stroke-width="3.4" stroke-linecap="round"/>
<circle cx="452.7" cy="141.6" r="1.30"/>
<circle cx="452.7" cy="144.1" r="1.30"/>
<circle cx="452.7" cy="146.7" r="1.30"/>
<circle cx="452.7" cy="148.8" r="1.30"/>
<circle cx="452.7" cy="162.0" r="1.30"/>
<circle cx="452.7" cy="165.1" r="1.30"/>
<circle cx="452.7" cy="168.2" r="1.30"/>
<circle cx="452.7" cy="175.3" r="1.30"/>
<circle cx="452.7" cy="178.4" r="1.30"/>
<circle cx="452.7" cy="181.1" r="1.30"/>
<circle cx="452.7" cy="183.2" r="1.30"/>
<circle cx="452.7" cy="185.2" r="1.30"/>
<circle cx="452.7" cy="187.2" r="1.30"/>
<circle cx="452.7" cy="199.5" r="1.30"/>
<circle cx="480.8" cy="141.0" r="1.50"/>
<circle cx="480.8" cy="143.7" r="1.50"/>
<circle cx="480.8" cy="205.6" r="1.50"/>
<circle cx="480.8" cy="208.7" r="1.50"/>
<circle cx="480.8" cy="213.2" r="1.50"/>
<rect x="479.1" y="237.2" width="3.5" height="3.6" rx="1.1"/>
<path d="M480.8 148.8V200.5" stroke="#000" stroke-width="3.4" stroke-linecap="round"/>
<circle cx="522.9" cy="153.9" r="1.30"/>
<circle cx="522.9" cy="156.9" r="1.30"/>
<circle cx="522.9" cy="160.0" r="1.30"/>
<circle cx="522.9" cy="167.1" r="1.30"/>
<circle cx="522.9" cy="174.3" r="1.30"/>
<circle cx="522.9" cy="177.3" r="1.30"/>
<circle cx="522.9" cy="188.3" r="1.30"/>
<circle cx="522.9" cy="194.4" r="1.30"/>
<circle cx="522.9" cy="197.4" r="1.30"/>
<circle cx="522.9" cy="201.5" r="1.30"/>
<circle cx="522.9" cy="204.6" r="1.30"/>
<circle cx="522.9" cy="238.9" r="1.30"/>
<circle cx="551.0" cy="180.5" r="1.50"/>
<rect x="549.2" y="237.2" width="3.5" height="3.6" rx="1.1"/>
<circle cx="593.1" cy="135.5" r="1.30"/>
<circle cx="593.1" cy="137.8" r="1.30"/>
<circle cx="593.1" cy="140.0" r="1.30"/>
<circle cx="593.1" cy="142.2" r="1.30"/>
<circle cx="593.1" cy="144.5" r="1.30"/>
<circle cx="593.1" cy="146.7" r="1.30"/>
<circle cx="593.1" cy="149.0" r="1.30"/>
<circle cx="593.1" cy="154.9" r="1.30"/>
<circle cx="593.1" cy="165.1" r="1.30"/>
<circle cx="593.1" cy="195.0" r="1.30"/>
<circle cx="621.2" cy="126.7" r="1.50"/>
<circle cx="621.2" cy="209.7" r="1.50"/>
<rect x="619.4" y="237.2" width="3.5" height="3.6" rx="1.1"/>
<path d="M621.2 129.4V204.6" stroke="#000" stroke-width="3.4" stroke-linecap="round"/>
<circle cx="663.3" cy="126.9" r="1.30"/>
<circle cx="663.3" cy="135.9" r="1.30"/>
<circle cx="663.3" cy="143.3" r="1.30"/>
<circle cx="663.3" cy="147.8" r="1.30"/>
<circle cx="663.3" cy="154.9" r="1.30"/>
<circle cx="663.3" cy="162.7" r="1.30"/>
<circle cx="663.3" cy="172.2" r="1.30"/>
<circle cx="663.3" cy="175.3" r="1.30"/>
<circle cx="663.3" cy="238.9" r="1.30"/>
<circle cx="691.3" cy="140.6" r="1.50"/>
<circle cx="691.3" cy="143.7" r="1.50"/>
<circle cx="691.3" cy="209.7" r="1.50"/>
<rect x="689.6" y="237.2" width="3.5" height="3.6" rx="1.1"/>
<path d="M691.3 146.7V202.6" stroke="#000" stroke-width="3.4" stroke-linecap="round"/>
<circle cx="733.5" cy="118.6" r="1.30"/>
<circle cx="733.5" cy="138.2" r="1.30"/>
<circle cx="733.5" cy="143.7" r="1.30"/>
<circle cx="733.5" cy="147.8" r="1.30"/>
<circle cx="733.5" cy="154.9" r="1.30"/>
<circle cx="733.5" cy="158.0" r="1.30"/>
<circle cx="733.5" cy="170.2" r="1.30"/>
<circle cx="733.5" cy="175.3" r="1.30"/>
<circle cx="733.5" cy="178.4" r="1.30"/>
<circle cx="733.5" cy="183.2" r="1.30"/>
<circle cx="733.5" cy="187.7" r="1.30"/>
<circle cx="733.5" cy="238.9" r="1.30"/>
<circle cx="761.5" cy="151.8" r="1.50"/>
<circle cx="761.5" cy="172.9" r="1.50"/>
<circle cx="761.5" cy="190.3" r="1.50"/>
<circle cx="761.5" cy="195.4" r="1.50"/>
<rect x="759.8" y="237.2" width="3.5" height="3.6" rx="1.1"/>
<circle cx="803.6" cy="147.8" r="1.30"/>
<circle cx="803.6" cy="150.8" r="1.30"/>
<circle cx="803.6" cy="154.9" r="1.30"/>
<circle cx="803.6" cy="160.0" r="1.30"/>
<circle cx="803.6" cy="167.1" r="1.30"/>
<circle cx="803.6" cy="170.2" r="1.30"/>
<circle cx="803.6" cy="175.3" r="1.30"/>
<circle cx="803.6" cy="178.0" r="1.30"/>
<circle cx="803.6" cy="187.7" r="1.30"/>
<circle cx="803.6" cy="194.4" r="1.30"/>
<circle cx="803.6" cy="196.4" r="1.30"/>
<circle cx="831.7" cy="148.8" r="1.50"/>
<circle cx="831.7" cy="153.9" r="1.50"/>
<circle cx="831.7" cy="159.0" r="1.50"/>
<circle cx="831.7" cy="162.0" r="1.50"/>
<circle cx="831.7" cy="209.7" r="1.50"/>
<rect x="830.0" y="237.2" width="3.5" height="3.6" rx="1.1"/>
<path d="M831.7 165.1V202.6" stroke="#000" stroke-width="3.4" stroke-linecap="round"/>
<circle cx="873.8" cy="119.6" r="1.30"/>
<circle cx="873.8" cy="131.4" r="1.30"/>
<circle cx="873.8" cy="140.6" r="1.30"/>
<circle cx="873.8" cy="143.7" r="1.30"/>
<circle cx="873.8" cy="147.8" r="1.30"/>
<circle cx="873.8" cy="152.9" r="1.30"/>
<circle cx="873.8" cy="153.9" r="1.30"/>
<circle cx="873.8" cy="166.1" r="1.30"/>
<circle cx="873.8" cy="168.2" r="1.30"/>
<circle cx="873.8" cy="177.3" r="1.30"/>
<circle cx="873.8" cy="179.4" r="1.30"/>
<circle cx="873.8" cy="181.1" r="1.30"/>
<circle cx="901.9" cy="130.4" r="1.50"/>
<circle cx="901.9" cy="132.4" r="1.50"/>
<circle cx="901.9" cy="135.5" r="1.50"/>
<circle cx="901.9" cy="137.6" r="1.50"/>
<circle cx="901.9" cy="205.6" r="1.50"/>
<circle cx="901.9" cy="208.7" r="1.50"/>
<circle cx="901.9" cy="213.2" r="1.50"/>
<rect x="900.1" y="237.2" width="3.5" height="3.6" rx="1.1"/>
<path d="M901.9 141.6V201.6" stroke="#000" stroke-width="3.4" stroke-linecap="round"/>
<circle cx="944.0" cy="109.0" r="1.30"/>
<circle cx="944.0" cy="119.2" r="1.30"/>
<circle cx="944.0" cy="121.2" r="1.30"/>
<circle cx="944.0" cy="125.3" r="1.30"/>
<circle cx="944.0" cy="130.4" r="1.30"/>
<circle cx="944.0" cy="132.4" r="1.30"/>
<circle cx="944.0" cy="134.5" r="1.30"/>
<circle cx="944.0" cy="137.6" r="1.30"/>
<circle cx="944.0" cy="143.7" r="1.30"/>
<circle cx="944.0" cy="147.8" r="1.30"/>
<circle cx="944.0" cy="153.9" r="1.30"/>
<circle cx="972.1" cy="97.8" r="1.50"/>
<circle cx="972.1" cy="99.8" r="1.50"/>
<circle cx="972.1" cy="101.8" r="1.50"/>
<circle cx="972.1" cy="103.9" r="1.50"/>
<circle cx="972.1" cy="105.9" r="1.50"/>
<circle cx="972.1" cy="108.0" r="1.50"/>
<circle cx="972.1" cy="111.0" r="1.50"/>
<circle cx="972.1" cy="114.1" r="1.50"/>
<rect x="970.3" y="237.2" width="3.5" height="3.6" rx="1.1"/>
<path d="M972.1 118.1V201.6" stroke="#000" stroke-width="3.4" stroke-linecap="round"/>
<circle cx="1014.2" cy="124.3" r="1.30"/>
<circle cx="1014.2" cy="128.4" r="1.30"/>
<circle cx="1014.2" cy="130.4" r="1.30"/>
<circle cx="1014.2" cy="136.5" r="1.30"/>
<circle cx="1014.2" cy="139.6" r="1.30"/>
<circle cx="1014.2" cy="141.6" r="1.30"/>
<circle cx="1014.2" cy="143.7" r="1.30"/>
<circle cx="1014.2" cy="152.9" r="1.30"/>
<circle cx="1014.2" cy="160.0" r="1.30"/>
<circle cx="1014.2" cy="163.1" r="1.30"/>
<circle cx="1014.2" cy="187.7" r="1.30"/>
<circle cx="1014.2" cy="238.9" r="1.30"/>
<circle cx="1042.2" cy="130.4" r="1.50"/>
<circle cx="1042.2" cy="133.5" r="1.50"/>
<circle cx="1042.2" cy="208.3" r="1.50"/>
<rect x="1040.5" y="237.2" width="3.5" height="3.6" rx="1.1"/>
<path d="M1042.2 136.5V202.6" stroke="#000" stroke-width="3.4" stroke-linecap="round"/>
<circle cx="1084.4" cy="131.0" r="1.30"/>
<circle cx="1084.4" cy="134.5" r="1.30"/>
<circle cx="1084.4" cy="140.6" r="1.30"/>
<circle cx="1084.4" cy="142.7" r="1.30"/>
<circle cx="1084.4" cy="147.8" r="1.30"/>
<circle cx="1084.4" cy="153.9" r="1.30"/>
<circle cx="1084.4" cy="155.9" r="1.30"/>
<circle cx="1084.4" cy="158.0" r="1.30"/>
<circle cx="1084.4" cy="165.1" r="1.30"/>
<circle cx="1112.4" cy="125.9" r="1.50"/>
<circle cx="1112.4" cy="209.1" r="1.50"/>
<rect x="1110.7" y="237.2" width="3.5" height="3.6" rx="1.1"/>
<path d="M1112.4 132.4V202.6" stroke="#000" stroke-width="3.4" stroke-linecap="round"/>
<circle cx="1154.5" cy="162.7" r="1.30"/>
<circle cx="1154.5" cy="176.7" r="1.30"/>
<circle cx="1154.5" cy="179.5" r="1.30"/>
<circle cx="1154.5" cy="187.7" r="1.30"/>
<circle cx="1154.5" cy="194.8" r="1.30"/>
<circle cx="1154.5" cy="199.5" r="1.30"/>
<circle cx="1154.5" cy="238.9" r="1.30"/>
<circle cx="1182.6" cy="166.5" r="1.50"/>
<circle cx="1182.6" cy="169.6" r="1.50"/>
<circle cx="1182.6" cy="173.3" r="1.50"/>
<circle cx="1182.6" cy="180.5" r="1.50"/>
<circle cx="1182.6" cy="183.2" r="1.50"/>
<circle cx="1182.6" cy="184.8" r="1.50"/>
<circle cx="1182.6" cy="186.4" r="1.50"/>
<circle cx="1182.6" cy="188.1" r="1.50"/>
<circle cx="1182.6" cy="189.7" r="1.50"/>
<circle cx="1182.6" cy="191.3" r="1.50"/>
<circle cx="1182.6" cy="193.0" r="1.50"/>
<circle cx="1182.6" cy="194.6" r="1.50"/>
<circle cx="1182.6" cy="196.2" r="1.50"/>
<circle cx="1182.6" cy="197.4" r="1.50"/>
<rect x="1180.9" y="237.2" width="3.5" height="3.6" rx="1.1"/>
<circle cx="1224.7" cy="141.6" r="1.30"/>
<circle cx="1224.7" cy="152.9" r="1.30"/>
<circle cx="1224.7" cy="154.9" r="1.30"/>
<circle cx="1224.7" cy="163.5" r="1.30"/>
<circle cx="1224.7" cy="165.5" r="1.30"/>
<circle cx="1224.7" cy="176.3" r="1.30"/>
<circle cx="1224.7" cy="178.4" r="1.30"/>
<circle cx="1224.7" cy="181.1" r="1.30"/>
<circle cx="1224.7" cy="197.4" r="1.30"/>
<circle cx="1224.7" cy="238.9" r="1.30"/>
<circle cx="1252.8" cy="125.9" r="1.50"/>
<circle cx="1252.8" cy="136.5" r="1.50"/>
<circle cx="1252.8" cy="138.6" r="1.50"/>
<circle cx="1252.8" cy="141.6" r="1.50"/>
<circle cx="1252.8" cy="143.7" r="1.50"/>
<circle cx="1252.8" cy="145.7" r="1.50"/>
<circle cx="1252.8" cy="205.6" r="1.50"/>
<rect x="1251.0" y="237.2" width="3.5" height="3.6" rx="1.1"/>
<path d="M1252.8 148.8V202.6" stroke="#000" stroke-width="3.4" stroke-linecap="round"/>
<circle cx="1294.9" cy="155.9" r="1.30"/>
<circle cx="1294.9" cy="164.1" r="1.30"/>
<circle cx="1294.9" cy="175.3" r="1.30"/>
<circle cx="1294.9" cy="182.1" r="1.30"/>
<circle cx="1294.9" cy="187.2" r="1.30"/>
<circle cx="1294.9" cy="195.4" r="1.30"/>
<circle cx="1294.9" cy="197.4" r="1.30"/>
<circle cx="1294.9" cy="199.5" r="1.30"/>
<circle cx="1294.9" cy="238.9" r="1.30"/>
<rect x="1321.2" y="237.2" width="3.5" height="3.6" rx="1.1"/>
<circle cx="1365.1" cy="136.5" r="1.30"/>
<circle cx="1365.1" cy="153.9" r="1.30"/>
<circle cx="1365.1" cy="162.0" r="1.30"/>
<circle cx="1365.1" cy="177.3" r="1.30"/>
<circle cx="1365.1" cy="184.2" r="1.30"/>
<circle cx="1365.1" cy="189.3" r="1.30"/>
<circle cx="1365.1" cy="194.4" r="1.30"/>
<circle cx="1365.1" cy="196.4" r="1.30"/>
<circle cx="1365.1" cy="238.9" r="1.30"/>
<circle cx="1393.1" cy="185.2" r="1.50"/>
<rect x="1391.4" y="237.2" width="3.5" height="3.6" rx="1.1"/>
<circle cx="1435.3" cy="123.3" r="1.30"/>
<circle cx="1435.3" cy="126.3" r="1.30"/>
<circle cx="1435.3" cy="131.4" r="1.30"/>
<circle cx="1435.3" cy="137.6" r="1.30"/>
<circle cx="1435.3" cy="153.9" r="1.30"/>
<circle cx="1435.3" cy="158.0" r="1.30"/>
<circle cx="1435.3" cy="160.0" r="1.30"/>
<circle cx="1435.3" cy="170.2" r="1.30"/>
<circle cx="1435.3" cy="173.3" r="1.30"/>
<circle cx="1435.3" cy="194.8" r="1.30"/>
<circle cx="1435.3" cy="199.5" r="1.30"/>
<circle cx="1463.3" cy="209.3" r="1.50"/>
<rect x="1461.6" y="237.2" width="3.5" height="3.6" rx="1.1"/>
<path d="M1463.3 138.6V202.6" stroke="#000" stroke-width="3.4" stroke-linecap="round"/>
<circle cx="1505.4" cy="132.4" r="1.30"/>
<circle cx="1505.4" cy="143.3" r="1.30"/>
<circle cx="1505.4" cy="154.9" r="1.30"/>
<circle cx="1505.4" cy="171.2" r="1.30"/>
<circle cx="1505.4" cy="174.3" r="1.30"/>
<circle cx="1505.4" cy="187.7" r="1.30"/>
<circle cx="1505.4" cy="194.8" r="1.30"/>
<circle cx="1505.4" cy="196.8" r="1.30"/>
<circle cx="1505.4" cy="199.5" r="1.30"/>
<circle cx="1505.4" cy="238.9" r="1.30"/>
<circle cx="1533.5" cy="171.6" r="1.50"/>
<circle cx="1533.5" cy="178.4" r="1.50"/>
<circle cx="1533.5" cy="180.5" r="1.50"/>
<circle cx="1533.5" cy="188.3" r="1.50"/>
<circle cx="1533.5" cy="191.3" r="1.50"/>
<circle cx="1533.5" cy="200.5" r="1.50"/>
<circle cx="1533.5" cy="203.6" r="1.50"/>
<rect x="1531.8" y="237.2" width="3.5" height="3.6" rx="1.1"/>
</g>
<g stroke="#000" stroke-width="2" fill="none">
<rect x="150.0" y="66.0" width="1404.0" height="228.0"/>
<path d="M186.0 294.0V303.7"/>
<path d="M256.2 294.0V303.7"/>
<path d="M326.3 294.0V303.7"/>
<path d="M396.5 294.0V303.7"/>
<path d="M466.6 294.0V303.7"/>
<path d="M536.8 294.0V303.7"/>
<path d="M607.0 294.0V303.7"/>
<path d="M677.1 294.0V303.7"/>
<path d="M747.3 294.0V303.7"/>
<path d="M817.4 294.0V303.7"/>
<path d="M887.6 294.0V303.7"/>
<path d="M957.8 294.0V303.7"/>
<path d="M1027.9 294.0V303.7"/>
<path d="M1098.1 294.0V303.7"/>
<path d="M1168.2 294.0V303.7"/>
<path d="M1238.4 294.0V303.7"/>
<path d="M1308.6 294.0V303.7"/>
<path d="M1378.7 294.0V303.7"/>
<path d="M1448.9 294.0V303.7"/>
<path d="M1519.0 294.0V303.7"/>
<path d="M140.0 150.0H150.0"/>
<path d="M140.0 239.0H150.0"/>
</g>
<g font-family="'Liberation Sans', sans-serif" font-size="42.0px" fill="#000" opacity="0.999">
<text transform="translate(765.00 50.00) scale(1.0523 1)" x="-2.3 21.2 33.5 54.4 74.4 86.2 99.2 112.2 134.7 155.9">8 vs. rest</text>
<text transform="translate(72.40 164.50) scale(1.0128 1)" x="-2.8 21.8 33.9">2.5</text>
<text transform="translate(71.60 253.60) scale(1.0345 1)" x="-2.1 21.8 33.9">0.0</text>
<text transform="translate(795.70 561.00) scale(1.0171 1)" x="-1.9 22.2 46.0 69.8 92.8">genes</text>
<text transform="translate(51.00 285.70) rotate(-90) scale(1.0262 1)" x="-2.0 21.1 43.4 68.3 81.5 104.4 124.0 144.8 154.5 178.1">expression</text>
<text transform="translate(199.10 500.91) rotate(-90) scale(0.9344 1)" x="-3.6 27.7 58.4 87.7 117.7 141.1 170.8">HNRNPA1</text>
<text transform="translate(269.26 424.97) rotate(-90) scale(0.9308 1)" x="-3.6 26.5 53.0 89.9">NPM1</text>
<text transform="translate(339.42 453.24) rotate(-90) scale(0.9388 1)" x="-3.4 23.9 54.9 85.4 119.2">SNHG7</text>
<text transform="translate(409.58 438.78) rotate(-90) scale(0.9245 1)" x="-3.9 24.5 50.1 78.4 105.7">RPS24</text>
<text transform="translate(479.74 453.24) rotate(-90) scale(0.9418 1)" x="-3.4 23.8 54.7 85.1 118.9">SNHG8</text>
<text transform="translate(549.90 495.35) rotate(-90) scale(1.0332 1)" x="-4.3 24.2 48.3 71.9 96.5 111.8 124.0 148.0">C19orf77</text>
<text transform="translate(620.06 470.60) rotate(-90) scale(1.0316 1)" x="-4.3 24.5 48.0 72.7 88.0 100.4 124.4">C6orf48</text>
<text transform="translate(690.22 507.06) rotate(-90) scale(0.9107 1)" x="-3.1 23.7 51.7 80.5 107.1 120.1 151.8 182.3">SERPINB1</text>
<text transform="translate(760.38 463.47) rotate(-90) scale(0.9145 1)" x="-4.6 21.9 50.8 77.8 106.7 133.9">PRSS57</text>
<text transform="translate(830.54 466.55) rotate(-90) scale(0.9489 1)" x="-3.8 8.3 42.5 68.9 100.0 131.4">IMPDH2</text>
<text transform="translate(900.70 440.85) rotate(-90) scale(0.9382 1)" x="-3.6 28.1 53.7 80.9 104.4">H2AFY</text>
<text transform="translate(970.86 421.66) rotate(-90) scale(0.9492 1)" x="-3.4 19.6 50.6 81.2">LDHB</text>
<text transform="translate(1041.02 519.05) rotate(-90) scale(0.9546 1)" x="-3.8 25.8 51.5 78.2 104.4 128.9 156.7 185.9">HSP90AB1</text>
<text transform="translate(1111.18 418.95) rotate(-90) scale(0.9404 1)" x="-5.1 22.4 33.3 59.6 85.2">EIF3L</text>
<text transform="translate(1181.34 414.90) rotate(-90) scale(0.9155 1)" x="-3.4 27.0 51.4 80.2">NFE2</text>
<text transform="translate(1251.50 458.42) rotate(-90) scale(0.9521 1)" x="-3.8 26.9 61.5 93.6 122.7">HMGA1</text>
<text transform="translate(1321.66 437.62) rotate(-90) scale(0.9129 1)" x="-4.8 23.0 55.2 81.4 105.8">EGFL7</text>
<text transform="translate(1391.82 436.12) rotate(-90) scale(0.9060 1)" x="-2.8 25.9 53.4 80.5 105.0">CYTL1</text>
<text transform="translate(1461.98 437.71) rotate(-90) scale(0.9304 1)" x="-0.3 26.0 47.3 75.1 103.6">ZFAS1</text>
<text transform="translate(1532.14 454.28) rotate(-90) scale(0.9119 1)" x="-3.1 23.8 50.4 63.3 95.5 123.8">SPINK2</text>
</g>
</svg>
</body></html>
